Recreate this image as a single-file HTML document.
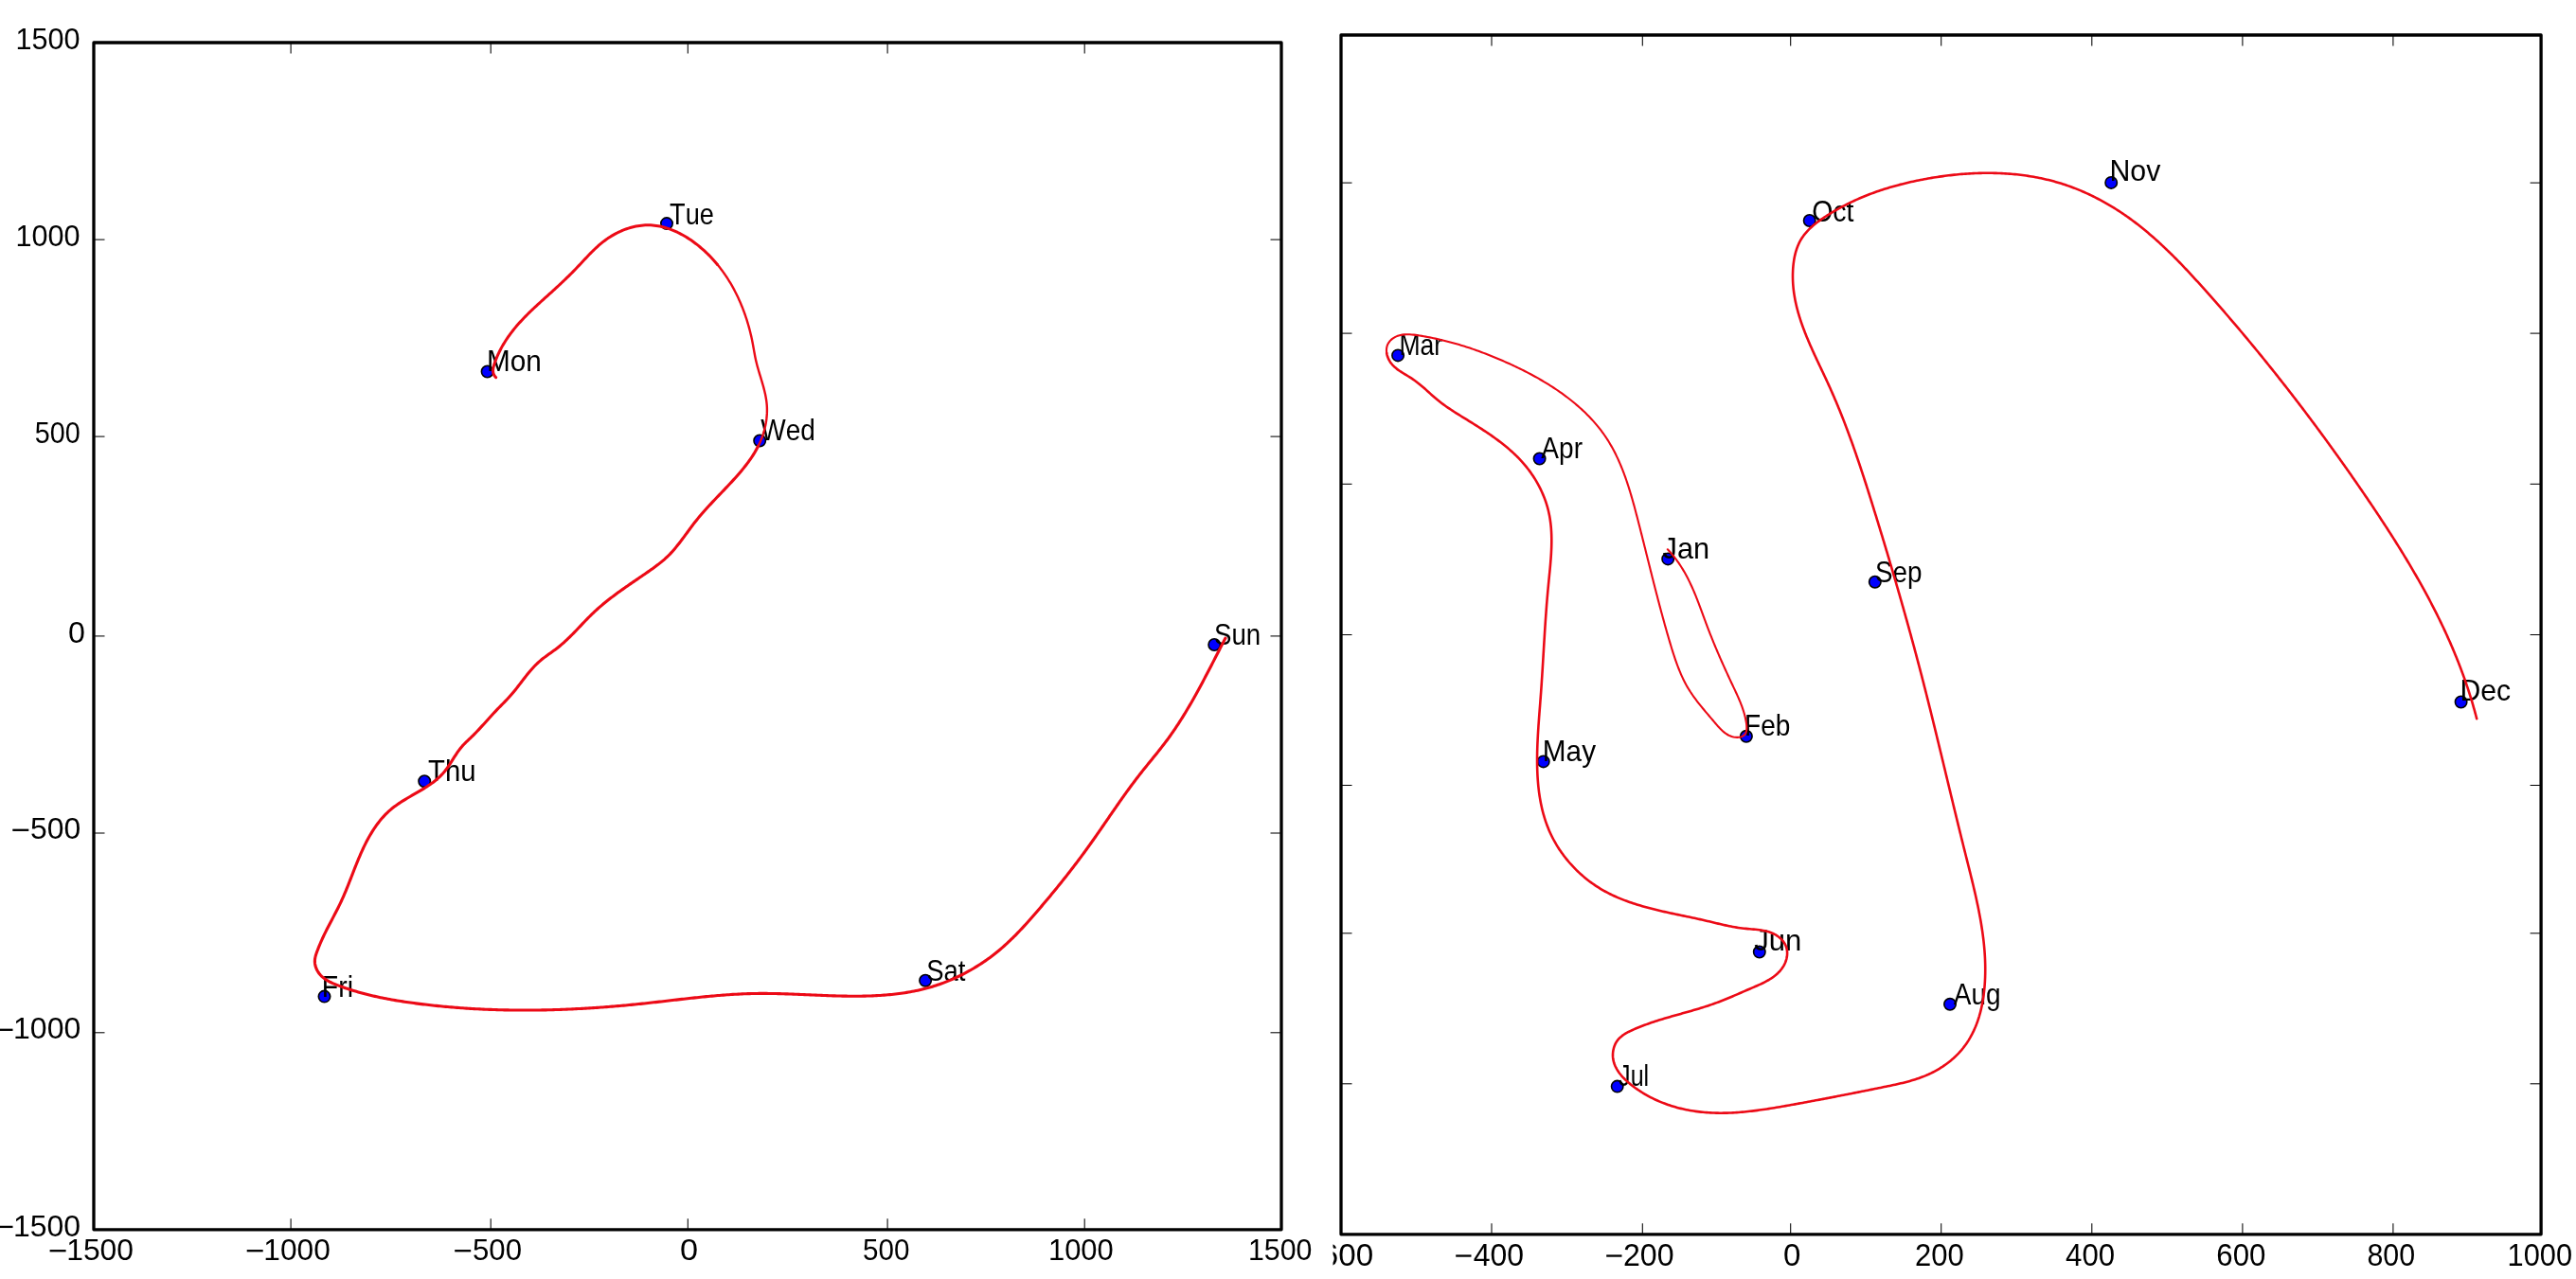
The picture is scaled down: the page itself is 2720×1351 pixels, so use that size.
<!DOCTYPE html>
<html><head><meta charset="utf-8"><style>
html,body{margin:0;padding:0;background:#fff;}
svg{display:block;filter:blur(0.5px);}
text{font-family:"Liberation Sans",sans-serif;fill:#000;font-kerning:none;}
</style></head><body>
<svg width="2720" height="1351" viewBox="0 0 2720 1351" xmlns="http://www.w3.org/2000/svg">
<rect width="2720" height="1351" fill="#fff"/>
<g stroke="#000" stroke-width="1.05" stroke-linecap="butt"><line x1="307.10" y1="1298.80" x2="307.10" y2="1287.30"/><line x1="307.10" y1="45.00" x2="307.10" y2="56.50"/><line x1="518.20" y1="1298.80" x2="518.20" y2="1287.30"/><line x1="518.20" y1="45.00" x2="518.20" y2="56.50"/><line x1="726.30" y1="1298.80" x2="726.30" y2="1287.30"/><line x1="726.30" y1="45.00" x2="726.30" y2="56.50"/><line x1="937.10" y1="1298.80" x2="937.10" y2="1287.30"/><line x1="937.10" y1="45.00" x2="937.10" y2="56.50"/><line x1="1145.20" y1="1298.80" x2="1145.20" y2="1287.30"/><line x1="1145.20" y1="45.00" x2="1145.20" y2="56.50"/><line x1="99.00" y1="253.10" x2="110.50" y2="253.10"/><line x1="1353.00" y1="253.10" x2="1341.50" y2="253.10"/><line x1="99.00" y1="461.10" x2="110.50" y2="461.10"/><line x1="1353.00" y1="461.10" x2="1341.50" y2="461.10"/><line x1="99.00" y1="671.90" x2="110.50" y2="671.90"/><line x1="1353.00" y1="671.90" x2="1341.50" y2="671.90"/><line x1="99.00" y1="880.00" x2="110.50" y2="880.00"/><line x1="1353.00" y1="880.00" x2="1341.50" y2="880.00"/><line x1="99.00" y1="1090.80" x2="110.50" y2="1090.80"/><line x1="1353.00" y1="1090.80" x2="1341.50" y2="1090.80"/></g><rect x="99.00" y="45.00" width="1254.00" height="1253.80" fill="none" stroke="#000" stroke-width="3.3" stroke-linejoin="round"/>
<g stroke="#000" stroke-width="1.05" stroke-linecap="butt"><line x1="1575.00" y1="1303.80" x2="1575.00" y2="1292.30"/><line x1="1575.00" y1="37.00" x2="1575.00" y2="48.50"/><line x1="1734.30" y1="1303.80" x2="1734.30" y2="1292.30"/><line x1="1734.30" y1="37.00" x2="1734.30" y2="48.50"/><line x1="1890.70" y1="1303.80" x2="1890.70" y2="1292.30"/><line x1="1890.70" y1="37.00" x2="1890.70" y2="48.50"/><line x1="2049.70" y1="1303.80" x2="2049.70" y2="1292.30"/><line x1="2049.70" y1="37.00" x2="2049.70" y2="48.50"/><line x1="2208.80" y1="1303.80" x2="2208.80" y2="1292.30"/><line x1="2208.80" y1="37.00" x2="2208.80" y2="48.50"/><line x1="2367.90" y1="1303.80" x2="2367.90" y2="1292.30"/><line x1="2367.90" y1="37.00" x2="2367.90" y2="48.50"/><line x1="2526.90" y1="1303.80" x2="2526.90" y2="1292.30"/><line x1="2526.90" y1="37.00" x2="2526.90" y2="48.50"/><line x1="1416.00" y1="193.10" x2="1427.50" y2="193.10"/><line x1="2683.10" y1="193.10" x2="2671.60" y2="193.10"/><line x1="1416.00" y1="352.10" x2="1427.50" y2="352.10"/><line x1="2683.10" y1="352.10" x2="2671.60" y2="352.10"/><line x1="1416.00" y1="511.30" x2="1427.50" y2="511.30"/><line x1="2683.10" y1="511.30" x2="2671.60" y2="511.30"/><line x1="1416.00" y1="670.50" x2="1427.50" y2="670.50"/><line x1="2683.10" y1="670.50" x2="2671.60" y2="670.50"/><line x1="1416.00" y1="829.50" x2="1427.50" y2="829.50"/><line x1="2683.10" y1="829.50" x2="2671.60" y2="829.50"/><line x1="1416.00" y1="985.80" x2="1427.50" y2="985.80"/><line x1="2683.10" y1="985.80" x2="2671.60" y2="985.80"/><line x1="1416.00" y1="1144.80" x2="1427.50" y2="1144.80"/><line x1="2683.10" y1="1144.80" x2="2671.60" y2="1144.80"/></g><rect x="1416.00" y="37.00" width="1267.10" height="1266.80" fill="none" stroke="#000" stroke-width="3.3" stroke-linejoin="round"/>
<text transform="translate(16.47,51.80) scale(0.9707,1)" font-size="31.5">1500</text>
<text transform="translate(16.47,259.90) scale(0.9707,1)" font-size="31.5">1000</text>
<text transform="translate(36.85,467.80) scale(0.9128,1)" font-size="31.5">500</text>
<text transform="translate(71.94,678.50) scale(1.0227,1)" font-size="31.5">0</text>
<rect x="13.30" y="875.65" width="17.00" height="2.30" fill="#000"/><text transform="translate(32.02,886.40) scale(1.0127,1)" font-size="31.5">500</text>
<rect x="-3.50" y="1086.65" width="17.00" height="2.30" fill="#000"/><text transform="translate(14.06,1097.40) scale(1.0159,1)" font-size="31.5">1000</text>
<rect x="-3.50" y="1294.75" width="17.00" height="2.30" fill="#000"/><text transform="translate(14.07,1305.50) scale(1.0144,1)" font-size="31.5">1500</text>
<rect x="52.60" y="1320.05" width="17.00" height="2.30" fill="#000"/><text transform="translate(70.17,1330.80) scale(1.0114,1)" font-size="31.5">1500</text>
<rect x="260.70" y="1320.05" width="17.00" height="2.30" fill="#000"/><text transform="translate(278.28,1330.80) scale(1.0068,1)" font-size="31.5">1000</text>
<rect x="480.20" y="1320.05" width="17.00" height="2.30" fill="#000"/><text transform="translate(498.95,1330.80) scale(0.9907,1)" font-size="31.5">500</text>
<text transform="translate(717.96,1330.80) scale(1.0891,1)" font-size="31.5">0</text>
<text transform="translate(911.01,1330.80) scale(0.9408,1)" font-size="31.5">500</text>
<text transform="translate(1106.94,1330.80) scale(0.9828,1)" font-size="31.5">1000</text>
<text transform="translate(1317.89,1330.80) scale(0.9647,1)" font-size="31.5">1500</text>
<rect x="1537.20" y="1325.39" width="16.30" height="2.30" fill="#000"/><text transform="translate(1555.77,1336.60) scale(0.9696,1)" font-size="33">400</text>
<rect x="1696.20" y="1325.39" width="16.30" height="2.30" fill="#000"/><text transform="translate(1713.88,1336.60) scale(0.9749,1)" font-size="33">200</text>
<text transform="translate(1882.91,1336.60) scale(1.0016,1)" font-size="33">0</text>
<text transform="translate(2022.04,1336.60) scale(0.9403,1)" font-size="33">200</text>
<text transform="translate(2181.08,1336.60) scale(0.9451,1)" font-size="33">400</text>
<text transform="translate(2340.31,1336.60) scale(0.9464,1)" font-size="33">600</text>
<text transform="translate(2499.38,1336.60) scale(0.9210,1)" font-size="33">800</text>
<text transform="translate(2647.55,1336.60) scale(0.9338,1)" font-size="33">1000</text>
<clipPath id="cl"><rect x="1407.5" y="0" width="1312.5" height="1351"/></clipPath>
<g clip-path="url(#cl)"><rect x="1377.20" y="1325.39" width="16.30" height="2.30" fill="#000"/><text transform="translate(1394.81,1336.60) scale(1.0059,1)" font-size="33">600</text></g>
<circle cx="514.6" cy="392.5" r="6.2" fill="#0000ff" stroke="#000" stroke-width="1.6"/>
<circle cx="704.0" cy="236.1" r="6.2" fill="#0000ff" stroke="#000" stroke-width="1.6"/>
<circle cx="802.2" cy="465.5" r="6.2" fill="#0000ff" stroke="#000" stroke-width="1.6"/>
<circle cx="448.2" cy="825.2" r="6.2" fill="#0000ff" stroke="#000" stroke-width="1.6"/>
<circle cx="342.5" cy="1052.6" r="6.2" fill="#0000ff" stroke="#000" stroke-width="1.6"/>
<circle cx="977.1" cy="1035.7" r="6.2" fill="#0000ff" stroke="#000" stroke-width="1.6"/>
<circle cx="1282.2" cy="681.0" r="6.2" fill="#0000ff" stroke="#000" stroke-width="1.6"/>
<circle cx="1761.2" cy="590.4" r="6.2" fill="#0000ff" stroke="#000" stroke-width="1.6"/>
<circle cx="1843.9" cy="777.8" r="6.2" fill="#0000ff" stroke="#000" stroke-width="1.6"/>
<circle cx="1476.1" cy="375.4" r="6.2" fill="#0000ff" stroke="#000" stroke-width="1.6"/>
<circle cx="1625.6" cy="484.5" r="6.2" fill="#0000ff" stroke="#000" stroke-width="1.6"/>
<circle cx="1629.7" cy="804.4" r="6.2" fill="#0000ff" stroke="#000" stroke-width="1.6"/>
<circle cx="1857.8" cy="1005.5" r="6.2" fill="#0000ff" stroke="#000" stroke-width="1.6"/>
<circle cx="1707.7" cy="1147.6" r="6.2" fill="#0000ff" stroke="#000" stroke-width="1.6"/>
<circle cx="2059.0" cy="1060.8" r="6.2" fill="#0000ff" stroke="#000" stroke-width="1.6"/>
<circle cx="1979.8" cy="614.7" r="6.2" fill="#0000ff" stroke="#000" stroke-width="1.6"/>
<circle cx="1910.7" cy="233.0" r="6.2" fill="#0000ff" stroke="#000" stroke-width="1.6"/>
<circle cx="2229.2" cy="192.9" r="6.2" fill="#0000ff" stroke="#000" stroke-width="1.6"/>
<circle cx="2598.6" cy="741.5" r="6.2" fill="#0000ff" stroke="#000" stroke-width="1.6"/>
<text transform="translate(513.96,391.60) scale(0.9444,1)" font-size="31.5">Mon</text>
<text transform="translate(707.09,236.80) scale(0.8625,1)" font-size="31.5">Tue</text>
<text transform="translate(803.28,464.70) scale(0.8898,1)" font-size="31.5">Wed</text>
<text transform="translate(452.04,824.80) scale(0.9305,1)" font-size="31.5">Thu</text>
<text transform="translate(339.87,1052.60) scale(0.9025,1)" font-size="31.5">Fri</text>
<text transform="translate(978.25,1035.70) scale(0.8724,1)" font-size="31.5">Sat</text>
<text transform="translate(1281.94,681.20) scale(0.8788,1)" font-size="31.5">Sun</text>
<text transform="translate(1755.62,590.20) scale(0.9609,1)" font-size="32">Jan</text>
<text transform="translate(1842.00,776.50) scale(0.8774,1)" font-size="32">Feb</text>
<text transform="translate(1477.42,375.20) scale(0.8296,1)" font-size="32">Mar</text>
<text transform="translate(1627.35,484.30) scale(0.8760,1)" font-size="32">Apr</text>
<text transform="translate(1628.86,804.20) scale(0.9296,1)" font-size="32">May</text>
<text transform="translate(1852.21,1004.30) scale(0.9711,1)" font-size="32">Jun</text>
<text transform="translate(1709.11,1147.20) scale(0.7840,1)" font-size="32">Jul</text>
<text transform="translate(2062.75,1060.50) scale(0.8739,1)" font-size="32">Aug</text>
<text transform="translate(1980.04,614.60) scale(0.8700,1)" font-size="32">Sep</text>
<text transform="translate(1913.15,234.10) scale(0.8890,1)" font-size="32">Oct</text>
<text transform="translate(2227.41,191.30) scale(0.9470,1)" font-size="32">Nov</text>
<text transform="translate(2597.42,740.20) scale(0.9432,1)" font-size="32">Dec</text>
<path d="M523.65,398.75 L522.21,397.03 L521.26,395.25 L520.73,393.43 L520.56,391.57 L520.68,389.68 L521.03,387.78 L521.54,385.87 L522.14,383.97 L522.79,382.08 L523.49,380.20 L524.22,378.33 L525.00,376.47 L525.81,374.63 L526.66,372.80 L527.55,370.98 L528.47,369.19 L529.42,367.40 L530.40,365.63 L531.42,363.88 L532.46,362.15 L533.53,360.43 L534.63,358.73 L535.76,357.06 L536.90,355.40 L538.08,353.76 L539.27,352.14 L540.48,350.54 L541.71,348.96 L542.96,347.40 L544.23,345.86 L545.52,344.34 L546.82,342.83 L548.14,341.34 L549.47,339.87 L550.82,338.41 L552.18,336.96 L553.56,335.53 L554.94,334.10 L556.34,332.69 L557.75,331.29 L559.17,329.90 L560.60,328.52 L562.04,327.14 L563.48,325.77 L564.94,324.41 L566.39,323.06 L567.86,321.71 L569.33,320.36 L570.80,319.01 L572.28,317.67 L573.76,316.33 L575.25,314.99 L576.73,313.65 L578.22,312.31 L579.70,310.97 L581.19,309.63 L582.67,308.28 L584.15,306.93 L585.63,305.58 L587.11,304.22 L588.58,302.86 L590.05,301.49 L591.52,300.12 L592.98,298.74 L594.44,297.37 L595.89,295.98 L597.33,294.59 L598.77,293.20 L600.21,291.80 L601.64,290.39 L603.06,288.98 L604.47,287.57 L605.87,286.14 L607.27,284.72 L608.66,283.28 L610.03,281.84 L611.40,280.39 L612.76,278.94 L614.12,277.49 L615.48,276.03 L616.83,274.58 L618.19,273.13 L619.55,271.69 L620.91,270.25 L622.28,268.82 L623.66,267.40 L625.06,266.00 L626.46,264.60 L627.88,263.23 L629.32,261.87 L630.78,260.53 L632.26,259.21 L633.76,257.92 L635.29,256.65 L636.85,255.41 L638.44,254.20 L640.05,253.01 L641.70,251.86 L643.39,250.75 L645.10,249.66 L646.85,248.62 L648.62,247.61 L650.42,246.65 L652.24,245.72 L654.08,244.84 L655.94,244.00 L657.83,243.21 L659.73,242.47 L661.64,241.77 L663.57,241.13 L665.51,240.53 L667.46,239.99 L669.42,239.51 L671.39,239.08 L673.36,238.71 L675.33,238.40 L677.31,238.15 L679.28,237.96 L681.26,237.83 L683.23,237.77 L685.19,237.78 L687.15,237.85 L689.10,237.98 L691.05,238.17 L692.99,238.42 L694.93,238.72 L696.85,239.08 L698.77,239.50 L700.68,239.97 L702.57,240.49 L704.46,241.07 L706.34,241.69 L708.21,242.36 L710.06,243.07 L711.90,243.83 L713.73,244.64 L715.54,245.48 L717.35,246.37 L719.13,247.30 L720.90,248.26 L722.66,249.26 L724.40,250.30 L726.12,251.37 L727.82,252.47 L729.51,253.61 L731.18,254.77 L732.82,255.96 L734.45,257.18 L736.06,258.42 L737.65,259.69 L739.21,260.98 L740.76,262.29 L742.28,263.62 L743.78,264.97 L745.25,266.34 L746.71,267.73 L748.14,269.14 L749.55,270.57 L750.93,272.01 L752.30,273.47 L753.64,274.95 L754.96,276.44 L756.26,277.95 L757.54,279.48" fill="none" stroke="#ec0a16" stroke-width="3.0" stroke-linecap="round" stroke-linejoin="round"/>
<path d="M757.54,279.48 L758.80,281.03 L760.03,282.59 L761.24,284.16 L762.44,285.75 L763.61,287.36 L764.76,288.98 L765.89,290.61 L767.00,292.26 L768.09,293.93 L769.15,295.60 L770.20,297.29 L771.23,298.99 L772.24,300.71 L773.22,302.44 L774.19,304.18 L775.14,305.93 L776.06,307.69 L776.97,309.47 L777.86,311.25 L778.73,313.05 L779.58,314.85 L780.41,316.67 L781.22,318.50 L782.01,320.33 L782.79,322.18 L783.54,324.03 L784.28,325.89 L784.99,327.76 L785.69,329.64 L786.37,331.53 L787.03,333.42 L787.67,335.32 L788.30,337.23 L788.90,339.14 L789.49,341.06 L790.06,342.99 L790.61,344.92 L791.14,346.85 L791.65,348.80 L792.15,350.74 L792.62,352.69 L793.08,354.64 L793.52,356.60 L793.94,358.56 L794.34,360.52 L794.73,362.49 L795.10,364.46 L795.45,366.43 L795.80,368.39 L796.15,370.36 L796.50,372.33 L796.86,374.29 L797.23,376.25 L797.63,378.21 L798.05,380.15 L798.49,382.10 L798.97,384.03 L799.47,385.96 L800.00,387.88 L800.54,389.80 L801.09,391.71 L801.66,393.63 L802.24,395.54 L802.82,397.44 L803.40,399.35 L803.97,401.26 L804.54,403.16 L805.10,405.07 L805.65,406.98 L806.18,408.90 L806.69,410.82 L807.17,412.74 L807.63,414.66 L808.05,416.60 L808.44,418.54 L808.79,420.48 L809.11,422.44 L809.37,424.40 L809.59,426.38 L809.75,428.36 L809.86,430.36 L809.91,432.36 L809.90,434.38 L809.84,436.40 L809.73,438.42 L809.56,440.44 L809.35,442.47 L809.08,444.49 L808.76,446.50 L808.39,448.51 L807.98,450.51 L807.51,452.50 L807.01,454.47 L806.45,456.43 L805.86,458.37 L805.22,460.29 L804.54,462.19 L803.81,464.06 L803.05,465.91 L802.25,467.73 L801.41,469.53 L800.54,471.32" fill="none" stroke="#ec0a16" stroke-width="2.4" stroke-linecap="round" stroke-linejoin="round"/>
<path d="M800.54,471.32 L799.63,473.07 L798.69,474.81 L797.72,476.53 L796.72,478.23 L795.68,479.92 L794.62,481.58 L793.54,483.23 L792.43,484.86 L791.29,486.48 L790.13,488.08 L788.95,489.66 L787.75,491.24 L786.53,492.80 L785.30,494.35 L784.04,495.89 L782.77,497.41 L781.49,498.93 L780.20,500.44 L778.89,501.94 L777.58,503.43 L776.25,504.92 L774.92,506.40 L773.58,507.87 L772.22,509.34 L770.87,510.80 L769.50,512.26 L768.13,513.71 L766.76,515.16 L765.38,516.61 L764.00,518.06 L762.62,519.51 L761.24,520.95 L759.85,522.40 L758.47,523.85 L757.08,525.30 L755.70,526.75 L754.32,528.20 L752.95,529.66 L751.57,531.12 L750.21,532.58 L748.84,534.05 L747.49,535.53 L746.14,537.01 L744.80,538.50 L743.47,540.00 L742.15,541.51 L740.83,543.02 L739.53,544.54 L738.24,546.08 L736.96,547.62 L735.70,549.18 L734.45,550.74 L733.22,552.32 L731.99,553.92 L730.78,555.51 L729.58,557.12 L728.38,558.73 L727.19,560.35 L726.01,561.97 L724.82,563.59 L723.64,565.21 L722.45,566.82 L721.26,568.43 L720.06,570.03 L718.86,571.63 L717.64,573.21 L716.42,574.79 L715.18,576.34 L713.92,577.89 L712.65,579.42 L711.36,580.92 L710.04,582.41 L708.71,583.87 L707.35,585.32 L705.96,586.73 L704.54,588.12 L703.09,589.48 L701.62,590.81 L700.11,592.11 L698.58,593.39 L697.03,594.65 L695.46,595.88 L693.87,597.10 L692.26,598.30 L690.64,599.49 L689.01,600.67 L687.37,601.83 L685.72,602.99 L684.06,604.14 L682.41,605.28 L680.75,606.42 L679.09,607.56 L677.43,608.70 L675.77,609.83 L674.11,610.97 L672.45,612.10 L670.79,613.23 L669.13,614.37 L667.47,615.50 L665.82,616.64 L664.17,617.78 L662.52,618.92 L660.88,620.07 L659.24,621.22 L657.61,622.37 L655.98,623.53 L654.35,624.70 L652.74,625.87 L651.12,627.05 L649.52,628.24 L647.92,629.43 L646.33,630.64 L644.75,631.85 L643.18,633.07 L641.61,634.30 L640.05,635.55 L638.51,636.80 L636.97,638.07 L635.45,639.35 L633.93,640.64 L632.43,641.94 L630.94,643.26 L629.46,644.60 L628.00,645.95 L626.54,647.32 L625.11,648.70 L623.68,650.09 L622.26,651.50 L620.85,652.92 L619.45,654.35 L618.06,655.79 L616.67,657.24 L615.29,658.69 L613.91,660.14 L612.53,661.59 L611.14,663.05 L609.76,664.50 L608.38,665.95 L606.98,667.39 L605.59,668.83 L604.18,670.26 L602.77,671.67 L601.35,673.08 L599.91,674.47 L598.47,675.85 L597.00,677.21 L595.53,678.56 L594.03,679.88 L592.52,681.18 L590.99,682.46 L589.43,683.72 L587.86,684.95 L586.26,686.15 L584.65,687.34 L583.03,688.51 L581.40,689.68 L579.78,690.84 L578.15,692.01 L576.54,693.19 L574.94,694.38 L573.36,695.59 L571.81,696.83 L570.28,698.10 L568.79,699.40 L567.33,700.74 L565.91,702.12 L564.51,703.53 L563.15,704.97 L561.81,706.44 L560.49,707.94 L559.20,709.46 L557.92,710.99 L556.66,712.55 L555.42,714.12 L554.18,715.70 L552.95,717.28 L551.73,718.88 L550.50,720.47 L549.28,722.07 L548.06,723.67 L546.83,725.26 L545.60,726.84 L544.35,728.41 L543.10,729.97 L541.82,731.52 L540.53,733.04 L539.22,734.55 L537.89,736.03 L536.54,737.49 L535.18,738.94 L533.80,740.38 L532.42,741.81 L531.03,743.23 L529.63,744.65 L528.24,746.07 L526.85,747.49 L525.46,748.93 L524.07,750.37 L522.70,751.82 L521.34,753.28 L519.98,754.76 L518.62,756.24 L517.27,757.72 L515.93,759.21 L514.58,760.70 L513.24,762.19 L511.89,763.69 L510.54,765.17 L509.19,766.66 L507.84,768.14 L506.48,769.61 L505.11,771.08 L503.74,772.53 L502.36,773.97 L500.97,775.40 L499.56,776.82 L498.15,778.22 L496.72,779.60 L495.28,780.96 L493.83,782.31 L492.40,783.68 L490.98,785.06 L489.60,786.47 L488.26,787.92 L486.97,789.43 L485.73,790.98 L484.53,792.57 L483.37,794.20 L482.23,795.85 L481.12,797.53 L480.02,799.22 L478.94,800.93 L477.86,802.64 L476.78,804.35 L475.69,806.05 L474.60,807.73 L473.48,809.40 L472.34,811.04 L471.17,812.65 L469.97,814.23 L468.72,815.76 L467.42,817.24 L466.08,818.67 L464.70,820.06 L463.28,821.40 L461.81,822.70 L460.31,823.97 L458.78,825.20 L457.22,826.40 L455.62,827.57 L454.00,828.72 L452.36,829.83 L450.69,830.93 L449.00,832.01 L447.30,833.06 L445.58,834.11 L443.85,835.14 L442.11,836.16 L440.36,837.18 L438.60,838.19 L436.84,839.20 L435.09,840.21 L433.33,841.23 L431.58,842.24 L429.83,843.27 L428.10,844.31 L426.37,845.36 L424.66,846.43 L422.97,847.52 L421.29,848.63 L419.64,849.76 L418.00,850.91 L416.40,852.10 L414.82,853.32 L413.27,854.57 L411.76,855.86 L410.28,857.18 L408.83,858.54 L407.41,859.94 L406.03,861.37 L404.68,862.83 L403.36,864.32 L402.07,865.84 L400.81,867.38 L399.58,868.96 L398.38,870.55 L397.20,872.17 L396.06,873.82 L394.93,875.48 L393.84,877.16 L392.77,878.86 L391.73,880.57 L390.71,882.30 L389.71,884.04 L388.74,885.79 L387.78,887.56 L386.85,889.33 L385.94,891.11 L385.05,892.90 L384.18,894.69 L383.33,896.50 L382.49,898.31 L381.67,900.12 L380.86,901.95 L380.06,903.77 L379.28,905.61 L378.51,907.45 L377.74,909.29 L376.99,911.13 L376.24,912.98 L375.50,914.83 L374.77,916.69 L374.04,918.54 L373.31,920.40 L372.59,922.26 L371.87,924.12 L371.14,925.97 L370.42,927.83 L369.69,929.69 L368.97,931.55 L368.23,933.40 L367.50,935.25 L366.75,937.11 L366.00,938.95 L365.24,940.80 L364.47,942.64 L363.69,944.47 L362.90,946.30 L362.10,948.13 L361.28,949.95 L360.45,951.76 L359.60,953.57 L358.74,955.37 L357.86,957.17 L356.97,958.96 L356.07,960.75 L355.15,962.53 L354.24,964.31 L353.31,966.08 L352.38,967.85 L351.45,969.63 L350.51,971.40 L349.58,973.17 L348.65,974.94 L347.72,976.72 L346.80,978.49 L345.88,980.27 L344.97,982.05 L344.08,983.83 L343.19,985.62 L342.32,987.42 L341.46,989.22 L340.62,991.02 L339.80,992.84 L338.99,994.66 L338.20,996.50 L337.42,998.35 L336.66,1000.21 L335.91,1002.09 L335.18,1003.98 L334.46,1005.89 L333.79,1007.82 L333.21,1009.77 L332.76,1011.73 L332.46,1013.71 L332.38,1015.71 L332.52,1017.72 L332.89,1019.71 L333.44,1021.66 L334.17,1023.53 L335.04,1025.31 L336.05,1026.98 L337.17,1028.53 L338.41,1029.98 L339.75,1031.33 L341.19,1032.59 L342.71,1033.76 L344.31,1034.86 L345.98,1035.88 L347.71,1036.84 L349.49,1037.75 L351.32,1038.60 L353.19,1039.41 L355.08,1040.18 L357.00,1040.92 L358.92,1041.63 L360.85,1042.33 L362.78,1043.01 L364.71,1043.68 L366.64,1044.33 L368.58,1044.96 L370.51,1045.58 L372.45,1046.18 L374.39,1046.77 L376.33,1047.35 L378.27,1047.91 L380.21,1048.46 L382.16,1048.99 L384.11,1049.51 L386.05,1050.02 L388.00,1050.52 L389.95,1051.00 L391.90,1051.47 L393.86,1051.93 L395.81,1052.37 L397.76,1052.81 L399.72,1053.24 L401.68,1053.65 L403.64,1054.05 L405.60,1054.45 L407.56,1054.83 L409.52,1055.20 L411.48,1055.57 L413.45,1055.92 L415.41,1056.27 L417.38,1056.61 L419.34,1056.94 L421.31,1057.26 L423.28,1057.58 L425.25,1057.88 L427.22,1058.18 L429.19,1058.47 L431.16,1058.76 L433.13,1059.04 L435.11,1059.31 L437.08,1059.58 L439.06,1059.85 L441.03,1060.10 L443.01,1060.35 L444.99,1060.60 L446.96,1060.84 L448.94,1061.08 L450.92,1061.31 L452.90,1061.54 L454.88,1061.76 L456.86,1061.98 L458.84,1062.20 L460.82,1062.40 L462.81,1062.61 L464.79,1062.81 L466.77,1063.00 L468.76,1063.19 L470.74,1063.37 L472.73,1063.55 L474.71,1063.73 L476.70,1063.90 L478.68,1064.06 L480.67,1064.22 L482.66,1064.38 L484.65,1064.53 L486.64,1064.68 L488.62,1064.82 L490.61,1064.96 L492.60,1065.09 L494.59,1065.22 L496.59,1065.34 L498.58,1065.46 L500.57,1065.58 L502.56,1065.69 L504.55,1065.80 L506.54,1065.90 L508.54,1066.00 L510.53,1066.09 L512.53,1066.18 L514.52,1066.26 L516.51,1066.34 L518.51,1066.42 L520.50,1066.49 L522.50,1066.56 L524.49,1066.62 L526.49,1066.68 L528.49,1066.74 L530.48,1066.79 L532.48,1066.83 L534.48,1066.88 L536.47,1066.91 L538.47,1066.95 L540.47,1066.98 L542.47,1067.00 L544.46,1067.02 L546.46,1067.04 L548.46,1067.06 L550.46,1067.06 L552.46,1067.07 L554.46,1067.07 L556.46,1067.07 L558.46,1067.06 L560.46,1067.05 L562.45,1067.04 L564.45,1067.02 L566.45,1067.00 L568.45,1066.97 L570.45,1066.94 L572.45,1066.91 L574.45,1066.87 L576.45,1066.83 L578.45,1066.79 L580.45,1066.74 L582.45,1066.69 L584.45,1066.63 L586.45,1066.57 L588.45,1066.51 L590.45,1066.44 L592.45,1066.37 L594.45,1066.29 L596.45,1066.22 L598.45,1066.13 L600.45,1066.05 L602.45,1065.96 L604.45,1065.87 L606.45,1065.77 L608.45,1065.67 L610.45,1065.57 L612.45,1065.46 L614.45,1065.35 L616.45,1065.24 L618.45,1065.13 L620.45,1065.01 L622.45,1064.88 L624.45,1064.76 L626.44,1064.63 L628.44,1064.49 L630.44,1064.36 L632.44,1064.22 L634.44,1064.07 L636.43,1063.93 L638.43,1063.78 L640.43,1063.62 L642.42,1063.47 L644.42,1063.31 L646.42,1063.15 L648.41,1062.98 L650.41,1062.81 L652.40,1062.64 L654.40,1062.47 L656.39,1062.29 L658.39,1062.11 L660.38,1061.92 L662.38,1061.74 L664.37,1061.55 L666.36,1061.36 L668.36,1061.16 L670.35,1060.96 L672.34,1060.76 L674.33,1060.55 L676.32,1060.35 L678.31,1060.14 L680.30,1059.92 L682.29,1059.71 L684.28,1059.49 L686.27,1059.27 L688.26,1059.05 L690.25,1058.83 L692.24,1058.60 L694.23,1058.38 L696.21,1058.15 L698.20,1057.92 L700.19,1057.69 L702.18,1057.46 L704.16,1057.23 L706.15,1057.01 L708.14,1056.78 L710.12,1056.55 L712.11,1056.32 L714.09,1056.09 L716.08,1055.86 L718.07,1055.63 L720.05,1055.41 L722.04,1055.18 L724.02,1054.96 L726.01,1054.74 L727.99,1054.52 L729.98,1054.30 L731.96,1054.09 L733.95,1053.88 L735.93,1053.67 L737.92,1053.46 L739.91,1053.25 L741.89,1053.05 L743.88,1052.86 L745.86,1052.66 L747.85,1052.47 L749.83,1052.28 L751.82,1052.10 L753.81,1051.92 L755.79,1051.75 L757.78,1051.58 L759.76,1051.42 L761.75,1051.26 L763.74,1051.10 L765.73,1050.96 L767.71,1050.81 L769.70,1050.68 L771.69,1050.54 L773.68,1050.42 L775.67,1050.30 L777.65,1050.19 L779.64,1050.08 L781.63,1049.99 L783.62,1049.89 L785.61,1049.81 L787.60,1049.73 L789.59,1049.66 L791.59,1049.60 L793.58,1049.55 L795.57,1049.51 L797.56,1049.47 L799.56,1049.44 L801.55,1049.42 L803.54,1049.41 L805.54,1049.40 L807.53,1049.41 L809.53,1049.42 L811.52,1049.43 L813.52,1049.46 L815.51,1049.49 L817.51,1049.52 L819.51,1049.56 L821.51,1049.61 L823.50,1049.66 L825.50,1049.71 L827.50,1049.77 L829.50,1049.84 L831.50,1049.90 L833.50,1049.97 L835.50,1050.05 L837.50,1050.12 L839.50,1050.20 L841.50,1050.28 L843.50,1050.37 L845.50,1050.45 L847.50,1050.54 L849.50,1050.62 L851.50,1050.71 L853.50,1050.80 L855.50,1050.88 L857.50,1050.97 L859.50,1051.06 L861.51,1051.15 L863.51,1051.23 L865.51,1051.31 L867.51,1051.40 L869.51,1051.48 L871.51,1051.55 L873.52,1051.63 L875.52,1051.70 L877.52,1051.77 L879.52,1051.83 L881.52,1051.90 L883.53,1051.95 L885.53,1052.01 L887.53,1052.05 L889.53,1052.10 L891.53,1052.13 L893.54,1052.17 L895.54,1052.19 L897.54,1052.21 L899.54,1052.23 L901.54,1052.23 L903.54,1052.23 L905.54,1052.22 L907.54,1052.21 L909.55,1052.18 L911.55,1052.15 L913.55,1052.11 L915.55,1052.06 L917.55,1052.00 L919.55,1051.93 L921.54,1051.86 L923.54,1051.77 L925.54,1051.67 L927.54,1051.56 L929.53,1051.44 L931.53,1051.30 L933.52,1051.16 L935.51,1051.00 L937.50,1050.83 L939.49,1050.65 L941.47,1050.45 L943.46,1050.24 L945.44,1050.02 L947.42,1049.78 L949.39,1049.53 L951.37,1049.27 L953.34,1048.99 L955.31,1048.69 L957.28,1048.38 L959.24,1048.05 L961.20,1047.70 L963.15,1047.34 L965.11,1046.96 L967.06,1046.57 L969.00,1046.15 L970.94,1045.72 L972.88,1045.27 L974.81,1044.80 L976.74,1044.31 L978.67,1043.81 L980.58,1043.28 L982.50,1042.73 L984.41,1042.17 L986.31,1041.58 L988.21,1040.97 L990.11,1040.34 L992.00,1039.69 L993.88,1039.03 L995.76,1038.34 L997.63,1037.63 L999.49,1036.90 L1001.35,1036.15 L1003.20,1035.39 L1005.04,1034.60 L1006.88,1033.79 L1008.71,1032.97 L1010.53,1032.13 L1012.34,1031.27 L1014.14,1030.39 L1015.94,1029.49 L1017.73,1028.58 L1019.51,1027.64 L1021.28,1026.69 L1023.04,1025.73 L1024.79,1024.74 L1026.53,1023.74 L1028.26,1022.72 L1029.98,1021.68 L1031.69,1020.63 L1033.40,1019.56 L1035.09,1018.48 L1036.77,1017.37 L1038.43,1016.26 L1040.09,1015.12 L1041.74,1013.98 L1043.37,1012.81 L1044.99,1011.63 L1046.60,1010.44 L1048.20,1009.23 L1049.78,1008.00 L1051.35,1006.76 L1052.91,1005.51 L1054.46,1004.24 L1055.99,1002.96 L1057.51,1001.66 L1059.01,1000.35 L1060.50,999.03 L1061.99,997.70 L1063.45,996.35 L1064.91,994.99 L1066.36,993.62 L1067.79,992.24 L1069.22,990.84 L1070.63,989.44 L1072.04,988.03 L1073.44,986.61 L1074.82,985.18 L1076.20,983.74 L1077.57,982.29 L1078.94,980.84 L1080.30,979.38 L1081.65,977.91 L1082.99,976.44 L1084.33,974.95 L1085.66,973.47 L1086.99,971.98 L1088.32,970.48 L1089.63,968.98 L1090.95,967.48 L1092.26,965.97 L1093.57,964.46 L1094.88,962.95 L1096.18,961.43 L1097.48,959.91 L1098.78,958.39 L1100.08,956.87 L1101.37,955.35 L1102.67,953.82 L1103.95,952.29 L1105.24,950.76 L1106.53,949.23 L1107.81,947.69 L1109.09,946.15 L1110.36,944.61 L1111.64,943.07 L1112.91,941.52 L1114.17,939.98 L1115.44,938.43 L1116.70,936.87 L1117.96,935.32 L1119.22,933.76 L1120.47,932.20 L1121.72,930.64 L1122.97,929.08 L1124.21,927.51 L1125.45,925.94 L1126.69,924.37 L1127.92,922.79 L1129.15,921.22 L1130.38,919.64 L1131.60,918.05 L1132.82,916.47 L1134.04,914.88 L1135.25,913.29 L1136.46,911.70 L1137.67,910.11 L1138.87,908.51 L1140.07,906.91 L1141.26,905.31 L1142.45,903.70 L1143.64,902.09 L1144.82,900.48 L1146.00,898.87 L1147.18,897.25 L1148.35,895.63 L1149.52,894.01 L1150.68,892.39 L1151.84,890.76 L1152.99,889.13 L1154.15,887.50 L1155.30,885.87 L1156.44,884.24 L1157.59,882.60 L1158.73,880.96 L1159.87,879.32 L1161.01,877.68 L1162.14,876.04 L1163.28,874.40 L1164.41,872.75 L1165.55,871.11 L1166.68,869.46 L1167.81,867.82 L1168.94,866.17 L1170.07,864.53 L1171.20,862.88 L1172.33,861.24 L1173.47,859.60 L1174.60,857.95 L1175.73,856.31 L1176.87,854.67 L1178.01,853.03 L1179.14,851.39 L1180.29,849.75 L1181.43,848.11 L1182.57,846.48 L1183.72,844.84 L1184.87,843.21 L1186.03,841.58 L1187.19,839.96 L1188.35,838.33 L1189.51,836.71 L1190.68,835.09 L1191.86,833.48 L1193.04,831.86 L1194.22,830.26 L1195.41,828.65 L1196.60,827.05 L1197.80,825.45 L1199.01,823.85 L1200.22,822.26 L1201.44,820.68 L1202.66,819.09 L1203.89,817.52 L1205.13,815.94 L1206.38,814.37 L1207.62,812.81 L1208.88,811.25 L1210.14,809.69 L1211.40,808.13 L1212.66,806.57 L1213.92,805.02 L1215.19,803.46 L1216.45,801.91 L1217.72,800.35 L1218.98,798.80 L1220.24,797.24 L1221.49,795.68 L1222.75,794.11 L1223.99,792.55 L1225.23,790.98 L1226.47,789.40 L1227.70,787.82 L1228.92,786.24 L1230.13,784.65 L1231.33,783.05 L1232.52,781.45 L1233.71,779.83 L1234.88,778.22 L1236.04,776.59 L1237.19,774.96 L1238.33,773.32 L1239.46,771.68 L1240.58,770.03 L1241.70,768.37 L1242.80,766.71 L1243.90,765.04 L1244.99,763.37 L1246.07,761.69 L1247.14,760.01 L1248.20,758.32 L1249.26,756.62 L1250.31,754.92 L1251.35,753.22 L1252.38,751.51 L1253.41,749.80 L1254.43,748.08 L1255.44,746.36 L1256.45,744.64 L1257.45,742.91 L1258.45,741.17 L1259.44,739.44 L1260.42,737.70 L1261.40,735.96 L1262.38,734.21 L1263.35,732.46 L1264.31,730.71 L1265.28,728.96 L1266.23,727.20 L1267.18,725.44 L1268.13,723.68 L1269.08,721.91 L1270.02,720.15 L1270.96,718.38 L1271.89,716.61 L1272.83,714.84 L1273.76,713.07 L1274.69,711.30 L1275.61,709.52 L1276.53,707.75 L1277.46,705.97 L1278.38,704.20 L1279.29,702.42 L1280.21,700.64 L1281.13,698.87 L1282.04,697.09 L1282.96,695.31 L1283.87,693.54 L1284.79,691.76 L1285.70,689.98 L1286.62,688.21 L1287.53,686.44 L1288.45,684.66 L1289.37,682.89 L1290.28,681.12 L1291.20,679.35 L1292.12,677.58 L1293.04,675.82 L1293.97,674.05" fill="none" stroke="#ec0a16" stroke-width="3.1" stroke-linecap="round" stroke-linejoin="round"/>
<path d="M1760.81,580.27 L1762.23,581.78 L1763.62,583.30 L1764.96,584.84 L1766.28,586.40 L1767.56,587.98 L1768.81,589.57 L1770.02,591.18 L1771.21,592.81 L1772.37,594.45 L1773.49,596.10 L1774.59,597.77 L1775.66,599.45 L1776.71,601.15 L1777.73,602.86 L1778.73,604.58 L1779.70,606.31 L1780.65,608.06 L1781.58,609.81 L1782.49,611.58 L1783.38,613.36 L1784.25,615.14 L1785.10,616.94 L1785.94,618.74 L1786.76,620.55 L1787.56,622.37 L1788.35,624.20 L1789.13,626.03 L1789.90,627.87 L1790.65,629.72 L1791.39,631.57 L1792.13,633.43 L1792.85,635.29 L1793.57,637.15 L1794.28,639.02 L1794.99,640.89 L1795.69,642.76 L1796.39,644.64 L1797.08,646.52 L1797.77,648.40 L1798.46,650.28 L1799.15,652.16 L1799.84,654.04 L1800.54,655.91 L1801.23,657.79 L1801.93,659.67 L1802.64,661.54 L1803.34,663.41 L1804.06,665.28 L1804.78,667.15 L1805.51,669.01 L1806.24,670.87 L1806.98,672.73 L1807.72,674.59 L1808.47,676.44 L1809.23,678.29 L1809.99,680.13 L1810.75,681.98 L1811.52,683.82 L1812.30,685.66 L1813.08,687.50 L1813.86,689.33 L1814.65,691.16 L1815.44,692.99 L1816.24,694.82 L1817.04,696.65 L1817.84,698.47 L1818.65,700.29 L1819.47,702.11 L1820.28,703.93 L1821.10,705.74 L1821.92,707.55 L1822.75,709.37 L1823.58,711.17 L1824.41,712.98 L1825.24,714.79 L1826.08,716.59 L1826.92,718.39 L1827.76,720.20 L1828.60,721.99 L1829.45,723.79 L1830.30,725.59 L1831.15,727.38 L1831.99,729.18 L1832.83,730.98 L1833.67,732.79 L1834.50,734.60 L1835.31,736.42 L1836.11,738.25 L1836.89,740.10 L1837.65,741.96 L1838.39,743.83 L1839.11,745.73 L1839.80,747.65 L1840.46,749.58 L1841.08,751.55 L1841.67,753.54 L1842.22,755.55 L1842.74,757.60 L1843.21,759.68 L1843.63,761.79 L1843.97,763.90 L1844.22,765.98 L1844.34,768.00 L1844.31,769.94 L1844.10,771.75 L1843.69,773.40 L1843.05,774.88 L1842.14,776.14 L1840.96,777.17 L1839.53,777.95 L1837.91,778.49 L1836.13,778.81 L1834.25,778.91 L1832.33,778.81 L1830.40,778.50 L1828.51,778.00 L1826.70,777.32 L1824.95,776.47 L1823.26,775.48 L1821.62,774.35 L1820.04,773.10 L1818.50,771.75 L1817.00,770.32 L1815.53,768.81 L1814.09,767.25 L1812.68,765.65 L1811.29,764.03 L1809.91,762.40 L1808.55,760.77 L1807.19,759.17 L1805.84,757.58 L1804.50,756.00 L1803.17,754.43 L1801.85,752.87 L1800.54,751.32 L1799.25,749.77 L1797.97,748.23 L1796.70,746.69 L1795.45,745.15 L1794.22,743.61 L1793.00,742.06 L1791.81,740.52 L1790.63,738.96 L1789.47,737.40 L1788.33,735.83 L1787.21,734.24 L1786.12,732.65 L1785.04,731.04 L1784.00,729.41 L1782.97,727.76 L1781.98,726.10 L1781.01,724.41 L1780.06,722.70 L1779.14,720.97 L1778.25,719.22 L1777.38,717.45 L1776.53,715.67 L1775.70,713.86 L1774.90,712.05 L1774.11,710.21 L1773.35,708.37 L1772.60,706.51 L1771.87,704.63 L1771.16,702.75 L1770.46,700.85 L1769.77,698.95 L1769.11,697.04 L1768.45,695.12 L1767.81,693.19 L1767.17,691.26 L1766.55,689.32 L1765.94,687.38 L1765.33,685.44 L1764.74,683.49 L1764.15,681.54 L1763.57,679.59 L1762.99,677.65 L1762.42,675.70 L1761.85,673.75 L1761.28,671.81 L1760.72,669.87 L1760.16,667.93 L1759.61,665.99 L1759.06,664.05 L1758.52,662.12 L1757.97,660.18 L1757.43,658.25 L1756.90,656.32 L1756.37,654.39 L1755.84,652.45 L1755.31,650.53 L1754.79,648.60 L1754.26,646.67 L1753.75,644.74 L1753.23,642.82 L1752.72,640.89 L1752.21,638.97 L1751.70,637.04 L1751.19,635.12 L1750.69,633.20 L1750.19,631.27 L1749.69,629.35 L1749.19,627.43 L1748.69,625.51 L1748.20,623.59 L1747.71,621.67 L1747.21,619.75 L1746.72,617.83 L1746.23,615.90 L1745.75,613.98 L1745.26,612.06 L1744.77,610.14 L1744.29,608.22 L1743.81,606.30 L1743.32,604.38 L1742.84,602.46 L1742.36,600.53 L1741.88,598.61 L1741.40,596.69 L1740.91,594.76 L1740.43,592.84 L1739.95,590.91 L1739.47,588.99 L1738.99,587.06 L1738.51,585.13 L1738.03,583.21 L1737.54,581.28 L1737.06,579.35 L1736.58,577.42 L1736.09,575.48 L1735.61,573.55 L1735.12,571.62 L1734.64,569.68 L1734.15,567.74 L1733.66,565.81 L1733.17,563.87 L1732.68,561.92 L1732.19,559.98 L1731.69,558.04 L1731.19,556.09 L1730.70,554.14 L1730.20,552.19 L1729.69,550.24 L1729.19,548.29 L1728.68,546.34 L1728.17,544.38 L1727.66,542.43 L1727.14,540.47 L1726.62,538.51 L1726.10,536.56 L1725.57,534.60 L1725.03,532.65 L1724.49,530.69 L1723.94,528.74 L1723.38,526.79 L1722.82,524.85 L1722.25,522.90 L1721.67,520.96 L1721.09,519.03 L1720.49,517.09 L1719.88,515.17 L1719.27,513.24 L1718.64,511.32 L1718.01,509.41 L1717.36,507.50 L1716.70,505.60 L1716.03,503.71 L1715.34,501.82 L1714.65,499.94 L1713.94,498.06 L1713.21,496.20 L1712.47,494.34 L1711.72,492.49 L1710.95,490.65 L1710.17,488.82 L1709.37,487.00 L1708.55,485.19 L1707.72,483.39 L1706.87,481.61 L1706.00,479.83 L1705.11,478.06 L1704.21,476.31 L1703.28,474.57 L1702.34,472.84 L1701.38,471.12 L1700.39,469.42 L1699.39,467.73 L1698.36,466.05 L1697.32,464.39 L1696.25,462.75 L1695.16,461.12 L1694.04,459.50 L1692.91,457.90 L1691.75,456.31 L1690.57,454.74 L1689.37,453.18 L1688.15,451.64 L1686.91,450.12 L1685.66,448.60 L1684.38,447.10 L1683.08,445.62 L1681.76,444.15 L1680.43,442.69 L1679.08,441.25 L1677.71,439.82 L1676.32,438.41 L1674.91,437.01 L1673.49,435.62 L1672.05,434.25 L1670.60,432.89 L1669.13,431.54 L1667.65,430.21 L1666.15,428.89 L1664.63,427.58 L1663.10,426.29 L1661.56,425.01 L1660.00,423.74 L1658.43,422.48 L1656.85,421.24 L1655.25,420.01 L1653.65,418.80 L1652.03,417.59 L1650.39,416.40 L1648.75,415.22 L1647.10,414.05 L1645.43,412.90 L1643.76,411.75 L1642.07,410.62 L1640.37,409.50 L1638.67,408.40 L1636.96,407.30 L1635.23,406.22 L1633.50,405.15 L1631.77,404.08 L1630.02,403.04 L1628.27,402.00 L1626.50,400.97 L1624.74,399.96 L1622.96,398.95 L1621.18,397.96 L1619.40,396.98 L1617.61,396.00 L1615.81,395.04 L1614.01,394.09 L1612.21,393.15 L1610.40,392.22 L1608.58,391.31 L1606.77,390.40 L1604.95,389.50 L1603.13,388.61 L1601.30,387.73 L1599.48,386.87 L1597.65,386.01 L1595.82,385.16 L1593.99,384.32 L1592.16,383.49 L1590.33,382.67 L1588.50,381.87 L1586.67,381.07 L1584.84,380.27 L1583.01,379.49 L1581.18,378.72 L1579.36,377.96 L1577.53,377.20 L1575.71,376.46 L1573.89,375.72 L1572.07,375.00 L1570.24,374.28 L1568.42,373.57 L1566.60,372.87 L1564.77,372.18 L1562.95,371.50 L1561.12,370.83 L1559.29,370.17 L1557.46,369.52 L1555.62,368.88 L1553.78,368.24 L1551.94,367.62 L1550.09,367.01 L1548.24,366.40 L1546.38,365.81 L1544.52,365.22 L1542.65,364.65 L1540.77,364.08 L1538.89,363.53 L1536.99,362.98 L1535.10,362.44 L1533.19,361.92 L1531.28,361.40 L1529.35,360.90 L1527.42,360.40 L1525.48,359.91 L1523.52,359.44 L1521.56,358.97 L1519.59,358.52 L1517.60,358.07 L1515.61,357.63 L1513.60,357.21 L1511.57,356.79 L1509.54,356.39 L1507.49,355.99 L1505.43,355.61 L1503.36,355.24 L1501.26,354.87 L1499.16,354.52 L1497.05,354.19 L1494.94,353.90 L1492.83,353.65 L1490.73,353.45 L1488.65,353.32 L1486.59,353.26 L1484.56,353.29 L1482.56,353.41 L1480.61,353.64 L1478.71,353.99 L1476.85,354.47 L1475.06,355.09 L1473.34,355.86 L1471.69,356.79 L1470.12,357.88 L1468.67,359.14 L1467.36,360.53 L1466.23,362.06 L1465.32,363.69 L1464.64,365.42 L1464.21,367.24 L1464.00,369.11 L1463.99,371.01 L1464.19,372.94" fill="none" stroke="#ec0a16" stroke-width="2.1" stroke-linecap="round" stroke-linejoin="round"/>
<path d="M1464.19,372.94 L1464.58,374.87 L1465.15,376.77 L1465.87,378.63 L1466.75,380.43 L1467.77,382.15 L1468.92,383.77 L1470.19,385.29 L1471.56,386.72 L1473.02,388.08 L1474.56,389.36 L1476.18,390.59 L1477.85,391.76 L1479.57,392.90 L1481.32,394.01 L1483.09,395.10 L1484.87,396.18 L1486.66,397.25 L1488.43,398.34 L1490.17,399.45 L1491.88,400.59 L1493.55,401.76 L1495.19,402.96 L1496.79,404.19 L1498.37,405.43 L1499.91,406.70 L1501.44,407.98 L1502.95,409.28 L1504.44,410.59 L1505.92,411.90 L1507.39,413.22 L1508.86,414.54 L1510.33,415.86 L1511.79,417.17 L1513.26,418.47 L1514.74,419.77 L1516.24,421.05 L1517.74,422.31 L1519.27,423.55 L1520.81,424.77 L1522.38,425.97 L1523.96,427.15 L1525.56,428.31 L1527.18,429.45 L1528.81,430.58 L1530.46,431.69 L1532.12,432.79 L1533.79,433.89 L1535.47,434.97 L1537.16,436.04 L1538.85,437.11 L1540.56,438.17 L1542.26,439.23 L1543.98,440.29 L1545.69,441.35 L1547.41,442.41 L1549.12,443.47 L1550.84,444.54 L1552.56,445.60 L1554.27,446.67 L1555.99,447.75 L1557.70,448.83 L1559.41,449.91 L1561.12,450.99 L1562.82,452.09 L1564.52,453.19 L1566.21,454.29 L1567.90,455.41 L1569.58,456.53 L1571.25,457.66 L1572.92,458.80 L1574.58,459.94 L1576.23,461.10 L1577.87,462.27 L1579.50,463.45 L1581.12,464.63 L1582.73,465.84 L1584.33,467.05 L1585.91,468.28 L1587.49,469.52 L1589.05,470.77 L1590.59,472.04 L1592.12,473.32 L1593.64,474.62 L1595.14,475.93 L1596.62,477.26 L1598.09,478.61 L1599.54,479.98 L1600.97,481.36 L1602.38,482.76 L1603.77,484.18 L1605.14,485.62 L1606.49,487.08 L1607.82,488.56 L1609.13,490.06 L1610.41,491.58 L1611.68,493.13 L1612.92,494.69 L1614.13,496.27 L1615.32,497.88 L1616.49,499.50 L1617.63,501.14 L1618.74,502.80 L1619.83,504.48 L1620.89,506.17 L1621.93,507.88 L1622.93,509.61 L1623.91,511.35 L1624.86,513.11 L1625.78,514.88 L1626.67,516.67 L1627.53,518.47 L1628.35,520.28 L1629.15,522.11 L1629.92,523.95 L1630.65,525.80 L1631.35,527.66 L1632.02,529.54 L1632.65,531.42 L1633.25,533.32 L1633.81,535.22 L1634.34,537.13 L1634.83,539.05 L1635.28,540.98 L1635.70,542.92 L1636.09,544.86 L1636.44,546.81 L1636.75,548.77 L1637.03,550.74 L1637.28,552.71 L1637.50,554.68 L1637.70,556.67 L1637.86,558.65 L1637.99,560.65 L1638.10,562.64 L1638.19,564.65 L1638.24,566.65 L1638.28,568.66 L1638.30,570.67 L1638.29,572.69 L1638.26,574.71 L1638.22,576.73 L1638.16,578.75 L1638.08,580.78 L1637.98,582.81 L1637.87,584.84 L1637.75,586.87 L1637.61,588.90 L1637.47,590.93 L1637.31,592.96 L1637.14,595.00 L1636.97,597.03 L1636.79,599.06 L1636.60,601.09 L1636.41,603.12 L1636.21,605.15 L1636.01,607.17 L1635.81,609.20 L1635.61,611.22 L1635.41,613.24 L1635.21,615.25 L1635.01,617.27 L1634.82,619.28 L1634.63,621.28 L1634.44,623.28 L1634.26,625.28 L1634.08,627.28 L1633.91,629.27 L1633.74,631.26 L1633.57,633.24 L1633.41,635.23 L1633.25,637.21 L1633.09,639.19 L1632.94,641.16 L1632.79,643.14 L1632.64,645.11 L1632.50,647.08 L1632.36,649.04 L1632.22,651.01 L1632.08,652.97 L1631.94,654.94 L1631.81,656.90 L1631.68,658.86 L1631.55,660.82 L1631.42,662.77 L1631.30,664.73 L1631.17,666.69 L1631.05,668.64 L1630.93,670.60 L1630.81,672.55 L1630.69,674.51 L1630.57,676.46 L1630.45,678.42 L1630.33,680.37 L1630.21,682.32 L1630.10,684.28 L1629.98,686.24 L1629.87,688.19 L1629.75,690.15 L1629.63,692.11 L1629.52,694.07 L1629.40,696.03 L1629.28,697.99 L1629.17,699.95 L1629.05,701.92 L1628.93,703.88 L1628.81,705.85 L1628.69,707.82 L1628.57,709.80 L1628.44,711.77 L1628.32,713.75 L1628.19,715.73 L1628.06,717.71 L1627.93,719.69 L1627.80,721.68 L1627.67,723.67 L1627.53,725.67 L1627.39,727.66 L1627.25,729.66 L1627.11,731.67 L1626.96,733.68 L1626.81,735.69 L1626.66,737.70 L1626.51,739.72 L1626.35,741.74 L1626.20,743.77 L1626.04,745.80 L1625.88,747.83 L1625.72,749.86 L1625.57,751.90 L1625.41,753.94 L1625.26,755.98 L1625.10,758.02 L1624.95,760.06 L1624.80,762.11 L1624.66,764.15 L1624.51,766.20 L1624.38,768.25 L1624.24,770.30 L1624.11,772.35 L1623.99,774.40 L1623.87,776.45 L1623.76,778.50 L1623.65,780.54 L1623.56,782.59 L1623.46,784.64 L1623.38,786.69 L1623.31,788.74 L1623.24,790.78 L1623.18,792.82 L1623.13,794.87 L1623.10,796.91 L1623.07,798.95 L1623.05,800.98 L1623.05,803.02 L1623.05,805.05 L1623.07,807.07 L1623.10,809.10 L1623.15,811.12 L1623.21,813.14 L1623.28,815.16 L1623.36,817.17 L1623.46,819.18 L1623.58,821.18 L1623.71,823.18 L1623.86,825.17 L1624.02,827.16 L1624.20,829.15 L1624.40,831.13 L1624.62,833.11 L1624.85,835.08 L1625.10,837.04 L1625.38,839.00 L1625.67,840.95 L1625.98,842.90 L1626.31,844.84 L1626.66,846.77 L1627.04,848.70 L1627.43,850.61 L1627.85,852.53 L1628.29,854.43 L1628.75,856.33 L1629.24,858.22 L1629.75,860.10 L1630.29,861.97 L1630.85,863.84 L1631.43,865.70 L1632.04,867.54 L1632.68,869.38 L1633.34,871.21 L1634.03,873.04 L1634.75,874.85 L1635.49,876.65 L1636.26,878.44 L1637.07,880.22 L1637.90,881.99 L1638.76,883.76 L1639.65,885.51 L1640.57,887.25 L1641.52,888.98 L1642.50,890.69 L1643.50,892.40 L1644.54,894.09 L1645.60,895.77 L1646.69,897.43 L1647.81,899.08 L1648.96,900.72 L1650.13,902.34 L1651.32,903.95 L1652.54,905.54 L1653.79,907.11 L1655.06,908.67 L1656.35,910.21 L1657.67,911.73 L1659.01,913.23 L1660.37,914.72 L1661.76,916.18 L1663.16,917.63 L1664.59,919.05 L1666.04,920.46 L1667.50,921.84 L1668.99,923.21 L1670.50,924.55 L1672.02,925.87 L1673.57,927.16 L1675.13,928.44 L1676.71,929.68 L1678.31,930.91 L1679.92,932.11 L1681.55,933.28 L1683.20,934.43 L1684.86,935.56 L1686.53,936.65 L1688.22,937.72 L1689.93,938.77 L1691.65,939.78 L1693.38,940.77 L1695.12,941.74 L1696.88,942.68 L1698.65,943.59 L1700.43,944.49 L1702.22,945.36 L1704.02,946.21 L1705.84,947.03 L1707.66,947.84 L1709.50,948.62 L1711.34,949.38 L1713.20,950.13 L1715.06,950.85 L1716.94,951.56 L1718.82,952.25 L1720.71,952.92 L1722.60,953.57 L1724.51,954.21 L1726.42,954.83 L1728.34,955.44 L1730.26,956.03 L1732.19,956.61 L1734.13,957.17 L1736.07,957.73 L1738.02,958.27 L1739.97,958.80 L1741.93,959.31 L1743.89,959.82 L1745.85,960.32 L1747.82,960.80 L1749.79,961.28 L1751.76,961.75 L1753.73,962.21 L1755.71,962.67 L1757.69,963.12 L1759.67,963.56 L1761.65,964.00 L1763.63,964.43 L1765.61,964.86 L1767.59,965.28 L1769.57,965.70 L1771.55,966.12 L1773.53,966.53 L1775.50,966.95 L1777.48,967.36 L1779.45,967.77 L1781.42,968.19 L1783.39,968.60 L1785.35,969.01 L1787.31,969.43 L1789.27,969.85 L1791.22,970.27 L1793.17,970.70 L1795.11,971.13 L1797.05,971.56 L1798.98,972.00 L1800.90,972.45 L1802.82,972.90 L1804.74,973.35 L1806.65,973.81 L1808.55,974.27 L1810.46,974.72 L1812.36,975.18 L1814.27,975.63 L1816.17,976.08 L1818.08,976.52 L1819.99,976.95 L1821.90,977.37 L1823.82,977.78 L1825.75,978.18 L1827.68,978.56 L1829.62,978.93 L1831.56,979.28 L1833.52,979.60 L1835.49,979.91 L1837.47,980.20 L1839.47,980.46 L1841.47,980.69 L1843.50,980.90 L1845.53,981.09 L1847.57,981.27 L1849.62,981.44 L1851.67,981.62 L1853.71,981.82 L1855.75,982.03 L1857.78,982.28 L1859.79,982.58 L1861.78,982.92 L1863.75,983.32 L1865.70,983.79 L1867.61,984.34 L1869.49,984.97 L1871.34,985.70 L1873.14,986.53 L1874.89,987.47 L1876.59,988.53 L1878.22,989.70 L1879.76,990.98 L1881.20,992.36 L1882.51,993.84 L1883.68,995.42 L1884.70,997.10 L1885.55,998.86 L1886.22,1000.71 L1886.70,1002.62 L1887.01,1004.57 L1887.13,1006.55 L1887.06,1008.55 L1886.83,1010.56 L1886.43,1012.55 L1885.89,1014.52 L1885.20,1016.44 L1884.37,1018.31 L1883.43,1020.11 L1882.37,1021.84 L1881.20,1023.48 L1879.95,1025.05 L1878.63,1026.53 L1877.23,1027.94 L1875.79,1029.27 L1874.28,1030.54 L1872.73,1031.74 L1871.13,1032.88 L1869.48,1033.97 L1867.80,1035.00 L1866.08,1035.99 L1864.33,1036.95 L1862.55,1037.86 L1860.75,1038.74 L1858.93,1039.60 L1857.09,1040.44 L1855.25,1041.26 L1853.39,1042.06 L1851.53,1042.86 L1849.66,1043.66 L1847.80,1044.46 L1845.95,1045.26 L1844.10,1046.06 L1842.25,1046.87 L1840.40,1047.67 L1838.55,1048.47 L1836.71,1049.27 L1834.86,1050.07 L1833.02,1050.87 L1831.18,1051.66 L1829.34,1052.44 L1827.50,1053.22 L1825.65,1053.99 L1823.81,1054.75 L1821.96,1055.51 L1820.11,1056.25 L1818.26,1056.99 L1816.41,1057.71 L1814.55,1058.42 L1812.69,1059.12 L1810.82,1059.81 L1808.95,1060.48 L1807.08,1061.14 L1805.20,1061.78 L1803.32,1062.41 L1801.43,1063.03 L1799.54,1063.63 L1797.65,1064.23 L1795.75,1064.82 L1793.85,1065.40 L1791.95,1065.97 L1790.04,1066.53 L1788.13,1067.09 L1786.22,1067.64 L1784.31,1068.19 L1782.40,1068.73 L1780.48,1069.28 L1778.56,1069.82 L1776.65,1070.35 L1774.73,1070.89 L1772.81,1071.43 L1770.89,1071.97 L1768.96,1072.51 L1767.04,1073.05 L1765.12,1073.60 L1763.20,1074.15 L1761.28,1074.71 L1759.36,1075.27 L1757.44,1075.84 L1755.52,1076.42 L1753.60,1077.00 L1751.68,1077.60 L1749.77,1078.21 L1747.85,1078.82 L1745.94,1079.45 L1744.03,1080.09 L1742.13,1080.74 L1740.22,1081.41 L1738.32,1082.10 L1736.42,1082.79 L1734.52,1083.51 L1732.63,1084.24 L1730.74,1084.99 L1728.86,1085.76 L1726.98,1086.55 L1725.10,1087.37 L1723.23,1088.20 L1721.38,1089.06 L1719.55,1089.97 L1717.77,1090.92 L1716.03,1091.93 L1714.36,1093.01 L1712.76,1094.16 L1711.25,1095.40 L1709.84,1096.73 L1708.54,1098.16 L1707.35,1099.70 L1706.30,1101.36 L1705.39,1103.15 L1704.63,1105.03 L1704.01,1106.98 L1703.53,1108.98 L1703.20,1111.00 L1703.02,1113.00 L1702.98,1114.97 L1703.08,1116.90 L1703.32,1118.80 L1703.68,1120.66 L1704.17,1122.48 L1704.78,1124.27 L1705.49,1126.02 L1706.31,1127.74 L1707.23,1129.42 L1708.24,1131.07 L1709.34,1132.68 L1710.52,1134.26 L1711.77,1135.80 L1713.09,1137.31 L1714.47,1138.79 L1715.92,1140.23 L1717.41,1141.64 L1718.95,1143.02 L1720.52,1144.37 L1722.13,1145.68 L1723.77,1146.96 L1725.43,1148.21 L1727.10,1149.43 L1728.79,1150.62 L1730.50,1151.78 L1732.21,1152.90 L1733.94,1154.00 L1735.68,1155.06 L1737.44,1156.10 L1739.21,1157.11 L1740.99,1158.08 L1742.78,1159.03 L1744.58,1159.95 L1746.40,1160.84 L1748.22,1161.70 L1750.06,1162.53 L1751.90,1163.34 L1753.75,1164.11 L1755.62,1164.86 L1757.49,1165.58 L1759.37,1166.28 L1761.25,1166.95 L1763.15,1167.59 L1765.05,1168.20 L1766.96,1168.79 L1768.88,1169.35 L1770.80,1169.89 L1772.73,1170.40 L1774.66,1170.88 L1776.60,1171.34 L1778.54,1171.78 L1780.49,1172.19 L1782.44,1172.58 L1784.40,1172.94 L1786.35,1173.28 L1788.31,1173.59 L1790.28,1173.88 L1792.24,1174.15 L1794.21,1174.40 L1796.18,1174.62 L1798.15,1174.82 L1800.12,1174.99 L1802.10,1175.15 L1804.07,1175.29 L1806.05,1175.40 L1808.03,1175.49 L1810.00,1175.57 L1811.98,1175.62 L1813.96,1175.66 L1815.94,1175.68 L1817.93,1175.68 L1819.91,1175.66 L1821.89,1175.63 L1823.88,1175.58 L1825.86,1175.51 L1827.85,1175.43 L1829.84,1175.33 L1831.82,1175.21 L1833.81,1175.09 L1835.80,1174.94 L1837.79,1174.79 L1839.78,1174.62 L1841.77,1174.44 L1843.76,1174.24 L1845.75,1174.04 L1847.74,1173.82 L1849.73,1173.60 L1851.72,1173.36 L1853.71,1173.11 L1855.70,1172.85 L1857.69,1172.58 L1859.68,1172.31 L1861.67,1172.02 L1863.66,1171.73 L1865.65,1171.43 L1867.64,1171.13 L1869.63,1170.81 L1871.62,1170.50 L1873.61,1170.17 L1875.59,1169.84 L1877.58,1169.51 L1879.57,1169.17 L1881.55,1168.82 L1883.54,1168.48 L1885.52,1168.13 L1887.51,1167.78 L1889.49,1167.42 L1891.47,1167.07 L1893.45,1166.71 L1895.43,1166.35 L1897.41,1165.99 L1899.39,1165.63 L1901.37,1165.27 L1903.34,1164.91 L1905.32,1164.55 L1907.29,1164.18 L1909.27,1163.82 L1911.24,1163.45 L1913.21,1163.08 L1915.18,1162.71 L1917.15,1162.34 L1919.12,1161.97 L1921.09,1161.60 L1923.06,1161.23 L1925.03,1160.86 L1926.99,1160.48 L1928.96,1160.11 L1930.92,1159.73 L1932.89,1159.35 L1934.85,1158.98 L1936.81,1158.60 L1938.77,1158.22 L1940.74,1157.84 L1942.70,1157.46 L1944.65,1157.07 L1946.61,1156.69 L1948.57,1156.31 L1950.53,1155.92 L1952.49,1155.54 L1954.44,1155.15 L1956.40,1154.77 L1958.35,1154.38 L1960.30,1153.99 L1962.26,1153.60 L1964.21,1153.22 L1966.16,1152.83 L1968.11,1152.44 L1970.07,1152.04 L1972.02,1151.65 L1973.96,1151.26 L1975.91,1150.87 L1977.86,1150.48 L1979.81,1150.08 L1981.76,1149.69 L1983.70,1149.29 L1985.65,1148.90 L1987.60,1148.50 L1989.54,1148.10 L1991.49,1147.71 L1993.43,1147.31 L1995.37,1146.91 L1997.31,1146.50 L1999.25,1146.09 L2001.19,1145.67 L2003.12,1145.24 L2005.05,1144.80 L2006.98,1144.35 L2008.91,1143.89 L2010.83,1143.42 L2012.74,1142.92 L2014.65,1142.42 L2016.56,1141.89 L2018.46,1141.34 L2020.35,1140.78 L2022.24,1140.19 L2024.12,1139.57 L2025.99,1138.93 L2027.86,1138.27 L2029.72,1137.58 L2031.57,1136.85 L2033.41,1136.10 L2035.25,1135.32 L2037.07,1134.50 L2038.89,1133.65 L2040.69,1132.76 L2042.49,1131.83 L2044.27,1130.87 L2046.05,1129.86 L2047.81,1128.81 L2049.56,1127.72 L2051.29,1126.60 L2053.01,1125.43 L2054.71,1124.22 L2056.38,1122.98 L2058.03,1121.70 L2059.65,1120.39 L2061.25,1119.04 L2062.81,1117.67 L2064.34,1116.26 L2065.83,1114.82 L2067.29,1113.36 L2068.70,1111.87 L2070.07,1110.35 L2071.40,1108.81 L2072.68,1107.25 L2073.92,1105.66 L2075.12,1104.05 L2076.28,1102.41 L2077.40,1100.76 L2078.48,1099.09 L2079.52,1097.39 L2080.52,1095.68 L2081.48,1093.95 L2082.41,1092.20 L2083.29,1090.43 L2084.15,1088.64 L2084.96,1086.84 L2085.75,1085.03 L2086.49,1083.20 L2087.21,1081.35 L2087.89,1079.49 L2088.54,1077.62 L2089.16,1075.74 L2089.75,1073.85 L2090.30,1071.94 L2090.83,1070.03 L2091.33,1068.10 L2091.80,1066.17 L2092.24,1064.23 L2092.66,1062.28 L2093.05,1060.32 L2093.41,1058.36 L2093.75,1056.39 L2094.06,1054.42 L2094.35,1052.45 L2094.62,1050.47 L2094.86,1048.48 L2095.08,1046.50 L2095.29,1044.51 L2095.47,1042.52 L2095.63,1040.54 L2095.77,1038.55 L2095.89,1036.56 L2095.99,1034.58 L2096.08,1032.59 L2096.14,1030.61 L2096.19,1028.62 L2096.22,1026.64 L2096.24,1024.65 L2096.23,1022.67 L2096.22,1020.69 L2096.18,1018.71 L2096.13,1016.73 L2096.06,1014.75 L2095.98,1012.77 L2095.88,1010.79 L2095.77,1008.81 L2095.64,1006.83 L2095.50,1004.86 L2095.34,1002.88 L2095.17,1000.90 L2094.99,998.93 L2094.79,996.95 L2094.58,994.98 L2094.36,993.01 L2094.12,991.03 L2093.88,989.06 L2093.62,987.09 L2093.35,985.12 L2093.07,983.15 L2092.77,981.18 L2092.47,979.21 L2092.16,977.24 L2091.84,975.27 L2091.50,973.30 L2091.16,971.33 L2090.81,969.36 L2090.45,967.40 L2090.08,965.43 L2089.70,963.46 L2089.32,961.50 L2088.93,959.53 L2088.53,957.57 L2088.12,955.61 L2087.71,953.64 L2087.29,951.68 L2086.86,949.72 L2086.43,947.76 L2085.99,945.79 L2085.54,943.83 L2085.09,941.87 L2084.64,939.91 L2084.18,937.95 L2083.72,935.99 L2083.25,934.04 L2082.78,932.08 L2082.31,930.12 L2081.83,928.16 L2081.35,926.21 L2080.87,924.25 L2080.39,922.29 L2079.90,920.34 L2079.41,918.38 L2078.92,916.43 L2078.43,914.47 L2077.94,912.52 L2077.45,910.57 L2076.96,908.61 L2076.46,906.66 L2075.97,904.71 L2075.48,902.75 L2074.99,900.80 L2074.50,898.85 L2074.02,896.90 L2073.53,894.95 L2073.04,893.00 L2072.56,891.05 L2072.07,889.10 L2071.59,887.15 L2071.11,885.20 L2070.63,883.25 L2070.15,881.31 L2069.67,879.36 L2069.19,877.41 L2068.71,875.46 L2068.23,873.52 L2067.75,871.57 L2067.28,869.63 L2066.80,867.68 L2066.33,865.73 L2065.85,863.79 L2065.38,861.84 L2064.91,859.90 L2064.44,857.96 L2063.96,856.01 L2063.49,854.07 L2063.02,852.13 L2062.55,850.18 L2062.08,848.24 L2061.61,846.30 L2061.14,844.35 L2060.67,842.41 L2060.20,840.47 L2059.73,838.53 L2059.27,836.59 L2058.80,834.65 L2058.33,832.71 L2057.86,830.77 L2057.40,828.83 L2056.93,826.89 L2056.46,824.95 L2056.00,823.01 L2055.53,821.07 L2055.06,819.13 L2054.60,817.19 L2054.13,815.25 L2053.66,813.31 L2053.20,811.37 L2052.73,809.44 L2052.26,807.50 L2051.79,805.56 L2051.33,803.62 L2050.86,801.69 L2050.39,799.75 L2049.93,797.81 L2049.46,795.88 L2048.99,793.94 L2048.52,792.00 L2048.05,790.07 L2047.58,788.13 L2047.11,786.19 L2046.64,784.26 L2046.17,782.32 L2045.70,780.39 L2045.23,778.45 L2044.76,776.52 L2044.29,774.58 L2043.82,772.65 L2043.34,770.71 L2042.87,768.78 L2042.39,766.84 L2041.92,764.91 L2041.44,762.97 L2040.97,761.04 L2040.49,759.10 L2040.01,757.17 L2039.54,755.24 L2039.06,753.30 L2038.58,751.37 L2038.10,749.43 L2037.61,747.50 L2037.13,745.57 L2036.65,743.63 L2036.16,741.70 L2035.68,739.77 L2035.19,737.83 L2034.71,735.90 L2034.22,733.97 L2033.73,732.03 L2033.24,730.10 L2032.75,728.17 L2032.26,726.23 L2031.76,724.30 L2031.27,722.37 L2030.77,720.43 L2030.27,718.50 L2029.78,716.57 L2029.28,714.63 L2028.78,712.70 L2028.27,710.77 L2027.77,708.83 L2027.27,706.90 L2026.76,704.97 L2026.25,703.03 L2025.74,701.10 L2025.23,699.17 L2024.72,697.24 L2024.21,695.30 L2023.70,693.37 L2023.18,691.44 L2022.66,689.50 L2022.15,687.57 L2021.63,685.64 L2021.11,683.70 L2020.58,681.77 L2020.06,679.84 L2019.54,677.91 L2019.01,675.97 L2018.48,674.04 L2017.96,672.11 L2017.43,670.18 L2016.90,668.24 L2016.37,666.31 L2015.83,664.38 L2015.30,662.45 L2014.76,660.52 L2014.23,658.59 L2013.69,656.66 L2013.15,654.72 L2012.61,652.79 L2012.07,650.86 L2011.53,648.93 L2010.99,647.00 L2010.44,645.07 L2009.90,643.14 L2009.35,641.21 L2008.81,639.29 L2008.26,637.36 L2007.71,635.43 L2007.16,633.50 L2006.61,631.57 L2006.05,629.64 L2005.50,627.72 L2004.95,625.79 L2004.39,623.86 L2003.83,621.94 L2003.28,620.01 L2002.72,618.08 L2002.16,616.16 L2001.60,614.23 L2001.04,612.31 L2000.48,610.38 L1999.91,608.46 L1999.35,606.54 L1998.79,604.61 L1998.22,602.69 L1997.65,600.77 L1997.09,598.85 L1996.52,596.93 L1995.95,595.00 L1995.38,593.08 L1994.81,591.16 L1994.24,589.24 L1993.67,587.32 L1993.09,585.41 L1992.52,583.49 L1991.94,581.57 L1991.37,579.65 L1990.79,577.73 L1990.22,575.82 L1989.64,573.90 L1989.06,571.99 L1988.48,570.07 L1987.90,568.16 L1987.32,566.24 L1986.74,564.33 L1986.16,562.42 L1985.57,560.51 L1984.99,558.60 L1984.41,556.69 L1983.82,554.77 L1983.24,552.87 L1982.65,550.96 L1982.06,549.05 L1981.48,547.14 L1980.89,545.23 L1980.30,543.33 L1979.71,541.42 L1979.12,539.52 L1978.53,537.61 L1977.94,535.71 L1977.35,533.80 L1976.76,531.90 L1976.16,530.00 L1975.57,528.10 L1974.97,526.20 L1974.38,524.30 L1973.78,522.40 L1973.18,520.50 L1972.58,518.61 L1971.98,516.71 L1971.37,514.81 L1970.77,512.92 L1970.16,511.02 L1969.55,509.13 L1968.94,507.24 L1968.33,505.34 L1967.71,503.45 L1967.09,501.56 L1966.47,499.67 L1965.85,497.79 L1965.23,495.90 L1964.60,494.01 L1963.97,492.12 L1963.34,490.24 L1962.71,488.35 L1962.07,486.47 L1961.43,484.59 L1960.78,482.71 L1960.14,480.83 L1959.49,478.94 L1958.84,477.07 L1958.18,475.19 L1957.52,473.31 L1956.86,471.43 L1956.19,469.56 L1955.52,467.68 L1954.85,465.81 L1954.17,463.94 L1953.49,462.07 L1952.80,460.20 L1952.11,458.33 L1951.42,456.46 L1950.72,454.59 L1950.02,452.72 L1949.31,450.86 L1948.60,448.99 L1947.88,447.13 L1947.16,445.27 L1946.44,443.40 L1945.71,441.54 L1944.97,439.68 L1944.23,437.82 L1943.49,435.97 L1942.74,434.11 L1941.99,432.26 L1941.22,430.40 L1940.46,428.55 L1939.69,426.70 L1938.91,424.85 L1938.13,423.00 L1937.34,421.15 L1936.55,419.30 L1935.75,417.45 L1934.94,415.61 L1934.13,413.76 L1933.31,411.92 L1932.49,410.08 L1931.66,408.24 L1930.82,406.40 L1929.98,404.56 L1929.13,402.72 L1928.28,400.89 L1927.42,399.05 L1926.56,397.22 L1925.70,395.38 L1924.83,393.55 L1923.97,391.71 L1923.10,389.88 L1922.23,388.04 L1921.37,386.21 L1920.50,384.38 L1919.64,382.54 L1918.78,380.71 L1917.92,378.87 L1917.07,377.03 L1916.22,375.20 L1915.37,373.36 L1914.53,371.52 L1913.70,369.68 L1912.87,367.84 L1912.06,366.00 L1911.25,364.15 L1910.44,362.30 L1909.65,360.46 L1908.87,358.61 L1908.10,356.75 L1907.34,354.90 L1906.60,353.04 L1905.86,351.18 L1905.14,349.32 L1904.44,347.46 L1903.74,345.59 L1903.07,343.72 L1902.41,341.85 L1901.76,339.97 L1901.14,338.09 L1900.53,336.21 L1899.94,334.33 L1899.37,332.44 L1898.82,330.54 L1898.29,328.65 L1897.78,326.75 L1897.29,324.84 L1896.83,322.93 L1896.39,321.02 L1895.97,319.10 L1895.57,317.18 L1895.21,315.25 L1894.86,313.32 L1894.55,311.38 L1894.26,309.44 L1894.00,307.49 L1893.76,305.54 L1893.56,303.58 L1893.39,301.62 L1893.24,299.65 L1893.13,297.67 L1893.05,295.69 L1893.00,293.70 L1892.98,291.71 L1892.99,289.71 L1893.05,287.71 L1893.13,285.69 L1893.25,283.67 L1893.41,281.65 L1893.61,279.63 L1893.85,277.61 L1894.13,275.59 L1894.46,273.58 L1894.83,271.59 L1895.26,269.61 L1895.74,267.64 L1896.27,265.70 L1896.86,263.78 L1897.51,261.89 L1898.22,260.03 L1898.99,258.20 L1899.82,256.41 L1900.73,254.66 L1901.70,252.95 L1902.74,251.28 L1903.85,249.66 L1905.02,248.08 L1906.26,246.55 L1907.55,245.05 L1908.89,243.59 L1910.28,242.17 L1911.72,240.78 L1913.21,239.42 L1914.73,238.10 L1916.29,236.81 L1917.88,235.54 L1919.50,234.31 L1921.15,233.10 L1922.82,231.91 L1924.51,230.75 L1926.21,229.61 L1927.92,228.49 L1929.64,227.39 L1931.37,226.30 L1933.11,225.23 L1934.85,224.18 L1936.59,223.15 L1938.34,222.13 L1940.10,221.13 L1941.86,220.14 L1943.63,219.17 L1945.40,218.22 L1947.18,217.29 L1948.96,216.37 L1950.75,215.46 L1952.55,214.57 L1954.35,213.70 L1956.15,212.84 L1957.96,212.00 L1959.77,211.17 L1961.59,210.35 L1963.42,209.55 L1965.24,208.77 L1967.08,208.00 L1968.92,207.24 L1970.76,206.50 L1972.61,205.77 L1974.46,205.06 L1976.31,204.36 L1978.17,203.67 L1980.04,203.00 L1981.91,202.34 L1983.78,201.69 L1985.66,201.06 L1987.54,200.43 L1989.43,199.82 L1991.32,199.23 L1993.21,198.64 L1995.11,198.07 L1997.01,197.51 L1998.92,196.96 L2000.83,196.42 L2002.74,195.90 L2004.66,195.38 L2006.58,194.88 L2008.51,194.39 L2010.43,193.90 L2012.37,193.43 L2014.30,192.97 L2016.24,192.52 L2018.18,192.08 L2020.13,191.66 L2022.07,191.24 L2024.03,190.83 L2025.98,190.43 L2027.94,190.04 L2029.90,189.66 L2031.86,189.29 L2033.83,188.93 L2035.80,188.57 L2037.77,188.23 L2039.74,187.89 L2041.72,187.57 L2043.70,187.25 L2045.68,186.95 L2047.66,186.65 L2049.65,186.37 L2051.64,186.09 L2053.63,185.82 L2055.62,185.57 L2057.61,185.32 L2059.61,185.09 L2061.61,184.86 L2063.60,184.65 L2065.60,184.45 L2067.60,184.25 L2069.60,184.07 L2071.61,183.90 L2073.61,183.74 L2075.61,183.60 L2077.62,183.46 L2079.62,183.33 L2081.63,183.22 L2083.64,183.12 L2085.64,183.03 L2087.65,182.96 L2089.66,182.89 L2091.66,182.84 L2093.67,182.80 L2095.67,182.77 L2097.68,182.76 L2099.69,182.75 L2101.69,182.77 L2103.69,182.79 L2105.70,182.83 L2107.70,182.88 L2109.70,182.94 L2111.70,183.02 L2113.70,183.11 L2115.70,183.21 L2117.70,183.33 L2119.69,183.46 L2121.68,183.61 L2123.68,183.77 L2125.67,183.94 L2127.65,184.13 L2129.64,184.33 L2131.62,184.55 L2133.61,184.78 L2135.59,185.03 L2137.56,185.29 L2139.54,185.57 L2141.51,185.86 L2143.48,186.17 L2145.44,186.49 L2147.41,186.83 L2149.37,187.19 L2151.32,187.56 L2153.28,187.94 L2155.23,188.34 L2157.18,188.76 L2159.12,189.20 L2161.06,189.65 L2163.00,190.11 L2164.93,190.60 L2166.86,191.10 L2168.78,191.62 L2170.70,192.15 L2172.62,192.70 L2174.53,193.27 L2176.43,193.85 L2178.34,194.46 L2180.23,195.08 L2182.13,195.71 L2184.02,196.37 L2185.90,197.04 L2187.78,197.73 L2189.65,198.44 L2191.52,199.16 L2193.38,199.90 L2195.23,200.65 L2197.08,201.42 L2198.93,202.21 L2200.76,203.01 L2202.60,203.83 L2204.42,204.67 L2206.24,205.51 L2208.05,206.38 L2209.86,207.26 L2211.66,208.15 L2213.45,209.06 L2215.23,209.98 L2217.01,210.91 L2218.78,211.86 L2220.54,212.82 L2222.30,213.80 L2224.05,214.79 L2225.79,215.79 L2227.52,216.81 L2229.24,217.83 L2230.96,218.87 L2232.66,219.93 L2234.36,220.99 L2236.05,222.07 L2237.73,223.16 L2239.40,224.26 L2241.07,225.37 L2242.72,226.49 L2244.36,227.63 L2246.00,228.77 L2247.63,229.93 L2249.25,231.09 L2250.86,232.27 L2252.46,233.46 L2254.05,234.65 L2255.64,235.86 L2257.22,237.08 L2258.79,238.30 L2260.35,239.54 L2261.90,240.78 L2263.45,242.04 L2264.99,243.30 L2266.52,244.57 L2268.05,245.85 L2269.56,247.14 L2271.08,248.43 L2272.58,249.74 L2274.08,251.05 L2275.57,252.37 L2277.06,253.70 L2278.53,255.04 L2280.01,256.38 L2281.47,257.73 L2282.93,259.09 L2284.39,260.45 L2285.84,261.82 L2287.28,263.20 L2288.72,264.58 L2290.15,265.97 L2291.58,267.36 L2293.00,268.76 L2294.42,270.17 L2295.84,271.58 L2297.24,273.00 L2298.65,274.42 L2300.05,275.85 L2301.44,277.28 L2302.83,278.72 L2304.22,280.16 L2305.60,281.60 L2306.98,283.05 L2308.36,284.51 L2309.73,285.96 L2311.10,287.42 L2312.46,288.89 L2313.82,290.36 L2315.18,291.83 L2316.54,293.30 L2317.89,294.78 L2319.24,296.26 L2320.59,297.74 L2321.94,299.22 L2323.28,300.71 L2324.62,302.20 L2325.96,303.69 L2327.29,305.18 L2328.63,306.67 L2329.96,308.17 L2331.29,309.66 L2332.62,311.16 L2333.95,312.66 L2335.28,314.16 L2336.60,315.66 L2337.92,317.16 L2339.25,318.66 L2340.57,320.17 L2341.88,321.67 L2343.20,323.18 L2344.52,324.69 L2345.83,326.20 L2347.14,327.71 L2348.45,329.22 L2349.76,330.73 L2351.06,332.25 L2352.37,333.76 L2353.67,335.28 L2354.97,336.80 L2356.28,338.32 L2357.57,339.84 L2358.87,341.36 L2360.17,342.88 L2361.46,344.41 L2362.75,345.93 L2364.04,347.46 L2365.33,348.98 L2366.62,350.51 L2367.90,352.04 L2369.19,353.57 L2370.47,355.11 L2371.75,356.64 L2373.03,358.18 L2374.31,359.71 L2375.59,361.25 L2376.86,362.79 L2378.13,364.33 L2379.41,365.87 L2380.68,367.41 L2381.94,368.95 L2383.21,370.50 L2384.48,372.04 L2385.74,373.59 L2387.00,375.14 L2388.26,376.69 L2389.52,378.24 L2390.78,379.79 L2392.04,381.34 L2393.29,382.89 L2394.54,384.45 L2395.79,386.01 L2397.04,387.56 L2398.29,389.12 L2399.54,390.68 L2400.78,392.24 L2402.03,393.80 L2403.27,395.37 L2404.51,396.93 L2405.75,398.50 L2406.99,400.07 L2408.22,401.63 L2409.46,403.20 L2410.69,404.77 L2411.92,406.34 L2413.15,407.92 L2414.38,409.49 L2415.61,411.07 L2416.83,412.64 L2418.06,414.22 L2419.28,415.80 L2420.50,417.38 L2421.72,418.96 L2422.94,420.54 L2424.16,422.13 L2425.37,423.71 L2426.59,425.30 L2427.80,426.88 L2429.01,428.47 L2430.22,430.06 L2431.43,431.65 L2432.63,433.24 L2433.84,434.83 L2435.04,436.43 L2436.24,438.02 L2437.44,439.62 L2438.64,441.22 L2439.84,442.81 L2441.04,444.41 L2442.23,446.01 L2443.43,447.62 L2444.62,449.22 L2445.81,450.82 L2447.00,452.43 L2448.18,454.04 L2449.37,455.64 L2450.56,457.25 L2451.74,458.86 L2452.92,460.47 L2454.10,462.08 L2455.28,463.70 L2456.46,465.31 L2457.63,466.93 L2458.81,468.55 L2459.98,470.16 L2461.16,471.78 L2462.33,473.40 L2463.50,475.02 L2464.66,476.65 L2465.83,478.27 L2466.99,479.89 L2468.16,481.52 L2469.32,483.15 L2470.48,484.78 L2471.64,486.40 L2472.80,488.04 L2473.96,489.67 L2475.11,491.30 L2476.27,492.93 L2477.42,494.57 L2478.57,496.20 L2479.72,497.84 L2480.87,499.48 L2482.02,501.12 L2483.16,502.76 L2484.31,504.40 L2485.45,506.04 L2486.59,507.69 L2487.73,509.33 L2488.87,510.98 L2490.01,512.63 L2491.14,514.28 L2492.28,515.92 L2493.41,517.58 L2494.55,519.23 L2495.68,520.88 L2496.81,522.53 L2497.94,524.19 L2499.06,525.85 L2500.19,527.50 L2501.31,529.16 L2502.43,530.82 L2503.56,532.48 L2504.68,534.14 L2505.79,535.81 L2506.91,537.47 L2508.02,539.14 L2509.13,540.81 L2510.24,542.47 L2511.35,544.14 L2512.46,545.82 L2513.56,547.49 L2514.67,549.16 L2515.77,550.84 L2516.86,552.51 L2517.96,554.19 L2519.05,555.87 L2520.14,557.55 L2521.23,559.24 L2522.32,560.92 L2523.40,562.61 L2524.48,564.29 L2525.56,565.98 L2526.63,567.67 L2527.71,569.36 L2528.78,571.06 L2529.84,572.75 L2530.91,574.45 L2531.97,576.15 L2533.03,577.85 L2534.08,579.55 L2535.14,581.25 L2536.19,582.96 L2537.23,584.66 L2538.27,586.37 L2539.31,588.08 L2540.35,589.79 L2541.38,591.51 L2542.41,593.22 L2543.44,594.94 L2544.46,596.66 L2545.48,598.38 L2546.50,600.11 L2547.51,601.83 L2548.51,603.56 L2549.52,605.29 L2550.52,607.02 L2551.52,608.75 L2552.51,610.49 L2553.50,612.22 L2554.48,613.96 L2555.46,615.70 L2556.44,617.45 L2557.41,619.19 L2558.38,620.94 L2559.34,622.69 L2560.30,624.44 L2561.25,626.19 L2562.20,627.95 L2563.15,629.71 L2564.09,631.47 L2565.03,633.23 L2565.96,634.99 L2566.89,636.76 L2567.81,638.53 L2568.73,640.30 L2569.64,642.07 L2570.55,643.85 L2571.45,645.63 L2572.35,647.41 L2573.24,649.19 L2574.13,650.98 L2575.01,652.76 L2575.89,654.55 L2576.76,656.35 L2577.63,658.14 L2578.49,659.94 L2579.35,661.74 L2580.20,663.54 L2581.05,665.35 L2581.89,667.15 L2582.72,668.97 L2583.55,670.78 L2584.37,672.59 L2585.19,674.41 L2586.00,676.23 L2586.81,678.05 L2587.61,679.88 L2588.40,681.71 L2589.19,683.54 L2589.97,685.37 L2590.74,687.21 L2591.51,689.05 L2592.28,690.89 L2593.03,692.74 L2593.78,694.58 L2594.53,696.43 L2595.27,698.29 L2596.00,700.14 L2596.72,702.00 L2597.44,703.86 L2598.15,705.73 L2598.86,707.60 L2599.55,709.47 L2600.25,711.34 L2600.93,713.22 L2601.61,715.10 L2602.28,716.98 L2602.94,718.86 L2603.60,720.75 L2604.25,722.64 L2604.89,724.54 L2605.53,726.44 L2606.16,728.34 L2606.78,730.24 L2607.39,732.15 L2608.00,734.06 L2608.60,735.97 L2609.19,737.89 L2609.77,739.81 L2610.35,741.73 L2610.92,743.66 L2611.48,745.59 L2612.03,747.52 L2612.58,749.45 L2613.12,751.39 L2613.65,753.34 L2614.17,755.28 L2614.68,757.23 L2615.19,759.18" fill="none" stroke="#ec0a16" stroke-width="2.6" stroke-linecap="round" stroke-linejoin="round"/>
</svg></body></html>
